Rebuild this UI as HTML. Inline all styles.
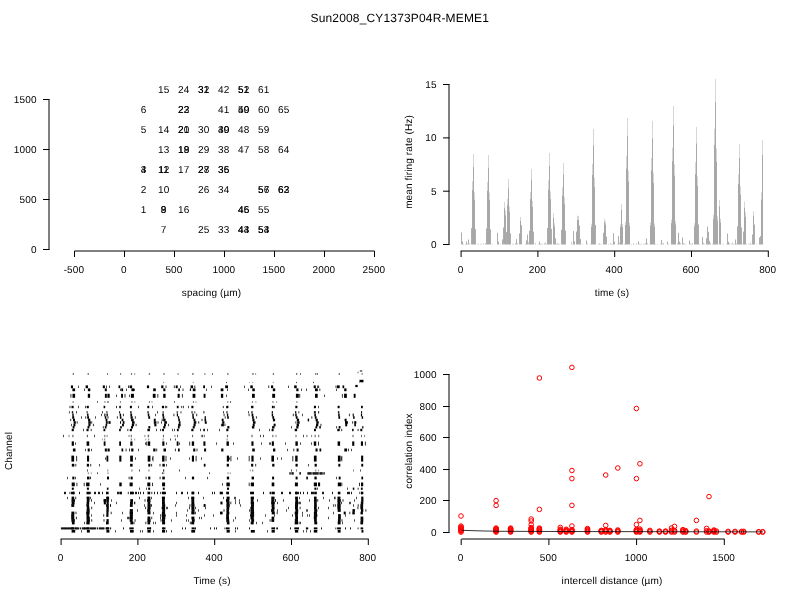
<!DOCTYPE html><html><head><meta charset="utf-8"><title>Sun2008_CY1373P04R-MEME1</title>
<style>html,body{margin:0;padding:0;background:#fff;}svg{display:block;will-change:transform;}text{font-family:"Liberation Sans",sans-serif;fill:#000;letter-spacing:0.12px;text-rendering:geometricPrecision;}</style></head><body>
<svg width="800" height="600" viewBox="0 0 800 600">
<rect width="800" height="600" fill="#fff"/>
<text x="399.8" y="22" text-anchor="middle" font-size="12" style="letter-spacing:0.16px">Sun2008_CY1373P04R-MEME1</text>
<line x1="49" y1="99.5" x2="49" y2="249.5" stroke="#000" stroke-width="1" />
<line x1="43" y1="99.5" x2="49.5" y2="99.5" stroke="#000" stroke-width="1" />
<text x="36.6" y="103.0" text-anchor="end" font-size="10" >1500</text>
<line x1="43" y1="149.5" x2="49.5" y2="149.5" stroke="#000" stroke-width="1" />
<text x="36.6" y="153.0" text-anchor="end" font-size="10" >1000</text>
<line x1="43" y1="199.5" x2="49.5" y2="199.5" stroke="#000" stroke-width="1" />
<text x="36.6" y="203.0" text-anchor="end" font-size="10" >500</text>
<line x1="43" y1="249.5" x2="49.5" y2="249.5" stroke="#000" stroke-width="1" />
<text x="36.6" y="253.0" text-anchor="end" font-size="10" >0</text>
<line x1="74.5" y1="251" x2="374.5" y2="251" stroke="#000" stroke-width="1" />
<line x1="74.5" y1="251" x2="74.5" y2="257" stroke="#000" stroke-width="1" />
<text x="73.9" y="273" text-anchor="middle" font-size="10" >-500</text>
<line x1="124.5" y1="251" x2="124.5" y2="257" stroke="#000" stroke-width="1" />
<text x="123.9" y="273" text-anchor="middle" font-size="10" >0</text>
<line x1="174.5" y1="251" x2="174.5" y2="257" stroke="#000" stroke-width="1" />
<text x="173.9" y="273" text-anchor="middle" font-size="10" >500</text>
<line x1="224.5" y1="251" x2="224.5" y2="257" stroke="#000" stroke-width="1" />
<text x="223.9" y="273" text-anchor="middle" font-size="10" >1000</text>
<line x1="274.5" y1="251" x2="274.5" y2="257" stroke="#000" stroke-width="1" />
<text x="273.9" y="273" text-anchor="middle" font-size="10" >1500</text>
<line x1="324.5" y1="251" x2="324.5" y2="257" stroke="#000" stroke-width="1" />
<text x="323.9" y="273" text-anchor="middle" font-size="10" >2000</text>
<line x1="374.5" y1="251" x2="374.5" y2="257" stroke="#000" stroke-width="1" />
<text x="373.9" y="273" text-anchor="middle" font-size="10" >2500</text>
<text x="211.5" y="296" text-anchor="middle" font-size="10" >spacing (µm)</text>
<text x="143.7" y="213.0" text-anchor="middle" font-size="10" >1</text>
<text x="143.7" y="193.0" text-anchor="middle" font-size="10" >2</text>
<text x="143.7" y="173.0" text-anchor="middle" font-size="10" >3</text>
<text x="143.7" y="173.0" text-anchor="middle" font-size="10" >4</text>
<text x="143.7" y="133.0" text-anchor="middle" font-size="10" >5</text>
<text x="143.7" y="113.0" text-anchor="middle" font-size="10" >6</text>
<text x="163.7" y="233.0" text-anchor="middle" font-size="10" >7</text>
<text x="163.7" y="213.0" text-anchor="middle" font-size="10" >8</text>
<text x="163.7" y="213.0" text-anchor="middle" font-size="10" >9</text>
<text x="163.7" y="193.0" text-anchor="middle" font-size="10" >10</text>
<text x="163.7" y="173.0" text-anchor="middle" font-size="10" >11</text>
<text x="163.7" y="173.0" text-anchor="middle" font-size="10" >12</text>
<text x="163.7" y="153.0" text-anchor="middle" font-size="10" >13</text>
<text x="163.7" y="133.0" text-anchor="middle" font-size="10" >14</text>
<text x="163.7" y="93.0" text-anchor="middle" font-size="10" >15</text>
<text x="183.7" y="213.0" text-anchor="middle" font-size="10" >16</text>
<text x="183.7" y="173.0" text-anchor="middle" font-size="10" >17</text>
<text x="183.7" y="153.0" text-anchor="middle" font-size="10" >18</text>
<text x="183.7" y="153.0" text-anchor="middle" font-size="10" >19</text>
<text x="183.7" y="133.0" text-anchor="middle" font-size="10" >20</text>
<text x="183.7" y="133.0" text-anchor="middle" font-size="10" >21</text>
<text x="183.7" y="113.0" text-anchor="middle" font-size="10" >22</text>
<text x="183.7" y="113.0" text-anchor="middle" font-size="10" >23</text>
<text x="183.7" y="93.0" text-anchor="middle" font-size="10" >24</text>
<text x="203.7" y="233.0" text-anchor="middle" font-size="10" >25</text>
<text x="203.7" y="193.0" text-anchor="middle" font-size="10" >26</text>
<text x="203.7" y="173.0" text-anchor="middle" font-size="10" >27</text>
<text x="203.7" y="173.0" text-anchor="middle" font-size="10" >28</text>
<text x="203.7" y="153.0" text-anchor="middle" font-size="10" >29</text>
<text x="203.7" y="133.0" text-anchor="middle" font-size="10" >30</text>
<text x="203.7" y="93.0" text-anchor="middle" font-size="10" >31</text>
<text x="203.7" y="93.0" text-anchor="middle" font-size="10" >32</text>
<text x="223.7" y="233.0" text-anchor="middle" font-size="10" >33</text>
<text x="223.7" y="193.0" text-anchor="middle" font-size="10" >34</text>
<text x="223.7" y="173.0" text-anchor="middle" font-size="10" >35</text>
<text x="223.7" y="173.0" text-anchor="middle" font-size="10" >36</text>
<text x="223.7" y="153.0" text-anchor="middle" font-size="10" >38</text>
<text x="223.7" y="133.0" text-anchor="middle" font-size="10" >39</text>
<text x="223.7" y="133.0" text-anchor="middle" font-size="10" >40</text>
<text x="223.7" y="113.0" text-anchor="middle" font-size="10" >41</text>
<text x="223.7" y="93.0" text-anchor="middle" font-size="10" >42</text>
<text x="243.7" y="233.0" text-anchor="middle" font-size="10" >43</text>
<text x="243.7" y="233.0" text-anchor="middle" font-size="10" >44</text>
<text x="243.7" y="213.0" text-anchor="middle" font-size="10" >45</text>
<text x="243.7" y="213.0" text-anchor="middle" font-size="10" >46</text>
<text x="243.7" y="153.0" text-anchor="middle" font-size="10" >47</text>
<text x="243.7" y="133.0" text-anchor="middle" font-size="10" >48</text>
<text x="243.7" y="113.0" text-anchor="middle" font-size="10" >49</text>
<text x="243.7" y="113.0" text-anchor="middle" font-size="10" >50</text>
<text x="243.7" y="93.0" text-anchor="middle" font-size="10" >51</text>
<text x="243.7" y="93.0" text-anchor="middle" font-size="10" >52</text>
<text x="263.7" y="233.0" text-anchor="middle" font-size="10" >53</text>
<text x="263.7" y="233.0" text-anchor="middle" font-size="10" >54</text>
<text x="263.7" y="213.0" text-anchor="middle" font-size="10" >55</text>
<text x="263.7" y="193.0" text-anchor="middle" font-size="10" >56</text>
<text x="263.7" y="193.0" text-anchor="middle" font-size="10" >57</text>
<text x="263.7" y="153.0" text-anchor="middle" font-size="10" >58</text>
<text x="263.7" y="133.0" text-anchor="middle" font-size="10" >59</text>
<text x="263.7" y="113.0" text-anchor="middle" font-size="10" >60</text>
<text x="263.7" y="93.0" text-anchor="middle" font-size="10" >61</text>
<text x="283.7" y="193.0" text-anchor="middle" font-size="10" >62</text>
<text x="283.7" y="193.0" text-anchor="middle" font-size="10" >63</text>
<text x="283.7" y="153.0" text-anchor="middle" font-size="10" >64</text>
<text x="283.7" y="113.0" text-anchor="middle" font-size="10" >65</text>
<line x1="449" y1="84.5" x2="449" y2="244.5" stroke="#000" stroke-width="1" />
<line x1="443" y1="84.5" x2="449.5" y2="84.5" stroke="#000" stroke-width="1" />
<text x="436.6" y="88.0" text-anchor="end" font-size="10" >15</text>
<line x1="443" y1="137.9" x2="449.5" y2="137.9" stroke="#000" stroke-width="1" />
<text x="436.6" y="141.4" text-anchor="end" font-size="10" >10</text>
<line x1="443" y1="191.2" x2="449.5" y2="191.2" stroke="#000" stroke-width="1" />
<text x="436.6" y="194.7" text-anchor="end" font-size="10" >5</text>
<line x1="443" y1="244.5" x2="449.5" y2="244.5" stroke="#000" stroke-width="1" />
<text x="436.6" y="248.0" text-anchor="end" font-size="10" >0</text>
<line x1="460.6" y1="251" x2="768.8" y2="251" stroke="#000" stroke-width="1" />
<line x1="461.1" y1="251" x2="461.1" y2="257" stroke="#000" stroke-width="1" />
<text x="460.5" y="273" text-anchor="middle" font-size="10" >0</text>
<line x1="537.9" y1="251" x2="537.9" y2="257" stroke="#000" stroke-width="1" />
<text x="537.3" y="273" text-anchor="middle" font-size="10" >200</text>
<line x1="614.7" y1="251" x2="614.7" y2="257" stroke="#000" stroke-width="1" />
<text x="614.1" y="273" text-anchor="middle" font-size="10" >400</text>
<line x1="691.5" y1="251" x2="691.5" y2="257" stroke="#000" stroke-width="1" />
<text x="690.9" y="273" text-anchor="middle" font-size="10" >600</text>
<line x1="768.3" y1="251" x2="768.3" y2="257" stroke="#000" stroke-width="1" />
<text x="767.6999999999999" y="273" text-anchor="middle" font-size="10" >800</text>
<text x="612" y="296" text-anchor="middle" font-size="10" >time (s)</text>
<text transform="translate(411.5,162) rotate(-90)" text-anchor="middle" font-size="10">mean firing rate (Hz)</text>
<rect x="461" y="232.5" width="1" height="12.0" fill="#adadad"/>
<rect x="462" y="241.5" width="1" height="3.0" fill="#adadad"/>
<rect x="463" y="243.8" width="1" height="0.7" fill="#cccccc"/>
<rect x="465" y="243.8" width="1" height="0.7" fill="#cccccc"/>
<rect x="466" y="241.5" width="1" height="3.0" fill="#adadad"/>
<rect x="467" y="243.8" width="1" height="0.8" fill="#cccccc"/>
<rect x="468" y="239.5" width="1" height="5.0" fill="#adadad"/>
<rect x="469" y="243.2" width="1" height="1.2" fill="#cccccc"/>
<rect x="471" y="228.2" width="1" height="16.3" fill="#adadad"/>
<rect x="472" y="181.2" width="1" height="8.9" fill="#d6d6d6"/>
<rect x="472" y="190.0" width="1" height="54.5" fill="#a8a8a8"/>
<rect x="473" y="154.0" width="1" height="12.7" fill="#d6d6d6"/>
<rect x="473" y="166.7" width="1" height="77.8" fill="#a8a8a8"/>
<rect x="474" y="192.0" width="1" height="7.3" fill="#d6d6d6"/>
<rect x="474" y="199.4" width="1" height="45.1" fill="#a8a8a8"/>
<rect x="475" y="229.1" width="1" height="15.4" fill="#adadad"/>
<rect x="477" y="243.8" width="1" height="0.7" fill="#cccccc"/>
<rect x="478" y="243.8" width="1" height="0.7" fill="#cccccc"/>
<rect x="480" y="243.8" width="1" height="0.7" fill="#cccccc"/>
<rect x="481" y="243.8" width="1" height="0.7" fill="#cccccc"/>
<rect x="483" y="243.0" width="1" height="1.5" fill="#cccccc"/>
<rect x="485" y="243.0" width="1" height="1.5" fill="#cccccc"/>
<rect x="486" y="228.4" width="1" height="16.1" fill="#adadad"/>
<rect x="487" y="181.8" width="1" height="8.8" fill="#d6d6d6"/>
<rect x="487" y="190.6" width="1" height="53.9" fill="#a8a8a8"/>
<rect x="488" y="155.0" width="1" height="12.5" fill="#d6d6d6"/>
<rect x="488" y="167.5" width="1" height="77.0" fill="#a8a8a8"/>
<rect x="489" y="192.6" width="1" height="7.3" fill="#d6d6d6"/>
<rect x="489" y="199.9" width="1" height="44.6" fill="#a8a8a8"/>
<rect x="490" y="229.3" width="1" height="15.2" fill="#adadad"/>
<rect x="492" y="243.8" width="1" height="0.7" fill="#cccccc"/>
<rect x="497" y="232.8" width="1" height="11.7" fill="#adadad"/>
<rect x="498" y="241.6" width="1" height="2.9" fill="#adadad"/>
<rect x="500" y="243.8" width="1" height="0.7" fill="#cccccc"/>
<rect x="502" y="239.5" width="1" height="5.0" fill="#adadad"/>
<rect x="503" y="227.5" width="1" height="17.0" fill="#adadad"/>
<rect x="504" y="202.0" width="1" height="6.0" fill="#d6d6d6"/>
<rect x="504" y="207.9" width="1" height="36.5" fill="#a8a8a8"/>
<rect x="505" y="210.5" width="1" height="4.8" fill="#d6d6d6"/>
<rect x="505" y="215.3" width="1" height="29.2" fill="#a8a8a8"/>
<rect x="506" y="231.8" width="1" height="12.8" fill="#adadad"/>
<rect x="507" y="198.7" width="1" height="6.4" fill="#d6d6d6"/>
<rect x="507" y="205.1" width="1" height="39.4" fill="#a8a8a8"/>
<rect x="508" y="179.0" width="1" height="9.2" fill="#d6d6d6"/>
<rect x="508" y="188.2" width="1" height="56.3" fill="#a8a8a8"/>
<rect x="509" y="206.5" width="1" height="5.3" fill="#d6d6d6"/>
<rect x="509" y="211.8" width="1" height="32.7" fill="#a8a8a8"/>
<rect x="510" y="233.4" width="1" height="11.1" fill="#adadad"/>
<rect x="512" y="243.8" width="1" height="0.7" fill="#cccccc"/>
<rect x="513" y="243.8" width="1" height="0.7" fill="#cccccc"/>
<rect x="515" y="243.0" width="1" height="1.5" fill="#cccccc"/>
<rect x="516" y="239.1" width="1" height="5.4" fill="#adadad"/>
<rect x="517" y="243.2" width="1" height="1.4" fill="#cccccc"/>
<rect x="519" y="233.5" width="1" height="11.0" fill="#adadad"/>
<rect x="520" y="217.0" width="1" height="3.9" fill="#d6d6d6"/>
<rect x="520" y="220.8" width="1" height="23.6" fill="#a8a8a8"/>
<rect x="521" y="225.2" width="1" height="19.2" fill="#adadad"/>
<rect x="525" y="243.8" width="1" height="0.7" fill="#cccccc"/>
<rect x="526" y="240.5" width="1" height="4.0" fill="#adadad"/>
<rect x="527" y="234.5" width="1" height="10.0" fill="#adadad"/>
<rect x="528" y="242.0" width="1" height="2.5" fill="#cccccc"/>
<rect x="529" y="230.9" width="1" height="13.6" fill="#adadad"/>
<rect x="530" y="191.7" width="1" height="7.4" fill="#d6d6d6"/>
<rect x="530" y="199.0" width="1" height="45.5" fill="#a8a8a8"/>
<rect x="531" y="169.0" width="1" height="10.6" fill="#d6d6d6"/>
<rect x="531" y="179.6" width="1" height="64.9" fill="#a8a8a8"/>
<rect x="532" y="200.7" width="1" height="6.1" fill="#d6d6d6"/>
<rect x="532" y="206.8" width="1" height="37.7" fill="#a8a8a8"/>
<rect x="533" y="231.7" width="1" height="12.8" fill="#adadad"/>
<rect x="535" y="243.0" width="1" height="1.5" fill="#cccccc"/>
<rect x="538" y="243.8" width="1" height="0.7" fill="#cccccc"/>
<rect x="539" y="241.5" width="1" height="3.0" fill="#adadad"/>
<rect x="540" y="243.8" width="1" height="0.8" fill="#cccccc"/>
<rect x="541" y="243.8" width="1" height="0.7" fill="#cccccc"/>
<rect x="542" y="243.8" width="1" height="0.7" fill="#cccccc"/>
<rect x="544" y="243.0" width="1" height="1.5" fill="#cccccc"/>
<rect x="545" y="242.5" width="1" height="2.0" fill="#cccccc"/>
<rect x="546" y="244.0" width="1" height="0.5" fill="#cccccc"/>
<rect x="547" y="228.0" width="1" height="16.5" fill="#adadad"/>
<rect x="548" y="180.4" width="1" height="9.0" fill="#d6d6d6"/>
<rect x="548" y="189.4" width="1" height="55.1" fill="#a8a8a8"/>
<rect x="549" y="153.0" width="1" height="12.8" fill="#d6d6d6"/>
<rect x="549" y="165.8" width="1" height="78.7" fill="#a8a8a8"/>
<rect x="550" y="191.4" width="1" height="7.4" fill="#d6d6d6"/>
<rect x="550" y="198.9" width="1" height="45.6" fill="#a8a8a8"/>
<rect x="551" y="228.9" width="1" height="15.6" fill="#adadad"/>
<rect x="553" y="213.3" width="1" height="4.4" fill="#d6d6d6"/>
<rect x="553" y="217.7" width="1" height="26.8" fill="#a8a8a8"/>
<rect x="554" y="223.3" width="1" height="3.0" fill="#d6d6d6"/>
<rect x="554" y="226.3" width="1" height="18.2" fill="#a8a8a8"/>
<rect x="555" y="238.3" width="1" height="6.2" fill="#adadad"/>
<rect x="556" y="243.8" width="1" height="0.7" fill="#cccccc"/>
<rect x="557" y="243.0" width="1" height="1.5" fill="#cccccc"/>
<rect x="558" y="243.8" width="1" height="0.7" fill="#cccccc"/>
<rect x="559" y="243.8" width="1" height="0.7" fill="#cccccc"/>
<rect x="561" y="229.8" width="1" height="14.7" fill="#adadad"/>
<rect x="562" y="187.4" width="1" height="8.0" fill="#d6d6d6"/>
<rect x="562" y="195.4" width="1" height="49.1" fill="#a8a8a8"/>
<rect x="563" y="163.0" width="1" height="11.4" fill="#d6d6d6"/>
<rect x="563" y="174.4" width="1" height="70.1" fill="#a8a8a8"/>
<rect x="564" y="197.2" width="1" height="6.6" fill="#d6d6d6"/>
<rect x="564" y="203.8" width="1" height="40.7" fill="#a8a8a8"/>
<rect x="565" y="230.6" width="1" height="13.9" fill="#adadad"/>
<rect x="571" y="242.0" width="1" height="2.5" fill="#cccccc"/>
<rect x="572" y="243.9" width="1" height="0.6" fill="#cccccc"/>
<rect x="573" y="231.1" width="1" height="13.4" fill="#adadad"/>
<rect x="574" y="241.2" width="1" height="3.4" fill="#adadad"/>
<rect x="576" y="231.6" width="1" height="12.9" fill="#adadad"/>
<rect x="577" y="215.8" width="1" height="4.0" fill="#d6d6d6"/>
<rect x="577" y="219.8" width="1" height="24.7" fill="#a8a8a8"/>
<rect x="578" y="215.8" width="1" height="4.0" fill="#d6d6d6"/>
<rect x="578" y="219.8" width="1" height="24.7" fill="#a8a8a8"/>
<rect x="579" y="225.6" width="1" height="18.9" fill="#adadad"/>
<rect x="580" y="239.0" width="1" height="5.5" fill="#adadad"/>
<rect x="582" y="243.8" width="1" height="0.7" fill="#cccccc"/>
<rect x="586" y="240.5" width="1" height="4.0" fill="#adadad"/>
<rect x="587" y="243.5" width="1" height="1.0" fill="#cccccc"/>
<rect x="590" y="243.8" width="1" height="0.7" fill="#cccccc"/>
<rect x="591" y="223.7" width="1" height="2.9" fill="#d6d6d6"/>
<rect x="591" y="226.6" width="1" height="17.9" fill="#a8a8a8"/>
<rect x="592" y="163.7" width="1" height="11.3" fill="#d6d6d6"/>
<rect x="592" y="175.0" width="1" height="69.5" fill="#a8a8a8"/>
<rect x="593" y="129.0" width="1" height="16.2" fill="#d6d6d6"/>
<rect x="593" y="145.2" width="1" height="99.3" fill="#a8a8a8"/>
<rect x="594" y="177.5" width="1" height="9.4" fill="#d6d6d6"/>
<rect x="594" y="186.9" width="1" height="57.6" fill="#a8a8a8"/>
<rect x="595" y="224.9" width="1" height="19.6" fill="#adadad"/>
<rect x="598" y="243.8" width="1" height="0.7" fill="#cccccc"/>
<rect x="599" y="243.0" width="1" height="1.5" fill="#cccccc"/>
<rect x="600" y="244.1" width="1" height="0.4" fill="#cccccc"/>
<rect x="601" y="243.8" width="1" height="0.7" fill="#cccccc"/>
<rect x="603" y="232.8" width="1" height="11.7" fill="#adadad"/>
<rect x="604" y="218.6" width="1" height="3.6" fill="#d6d6d6"/>
<rect x="604" y="222.2" width="1" height="22.3" fill="#a8a8a8"/>
<rect x="605" y="221.2" width="1" height="3.3" fill="#d6d6d6"/>
<rect x="605" y="224.5" width="1" height="20.0" fill="#a8a8a8"/>
<rect x="606" y="236.7" width="1" height="7.8" fill="#adadad"/>
<rect x="608" y="243.8" width="1" height="0.7" fill="#cccccc"/>
<rect x="610" y="243.0" width="1" height="1.5" fill="#cccccc"/>
<rect x="611" y="243.8" width="1" height="0.7" fill="#cccccc"/>
<rect x="612" y="243.8" width="1" height="0.7" fill="#cccccc"/>
<rect x="613" y="233.2" width="1" height="11.3" fill="#adadad"/>
<rect x="614" y="241.7" width="1" height="2.8" fill="#adadad"/>
<rect x="617" y="243.8" width="1" height="0.7" fill="#cccccc"/>
<rect x="618" y="236.2" width="1" height="8.3" fill="#adadad"/>
<rect x="619" y="242.4" width="1" height="2.1" fill="#cccccc"/>
<rect x="620" y="224.2" width="1" height="2.8" fill="#d6d6d6"/>
<rect x="620" y="227.1" width="1" height="17.4" fill="#a8a8a8"/>
<rect x="621" y="204.0" width="1" height="5.7" fill="#d6d6d6"/>
<rect x="621" y="209.7" width="1" height="34.8" fill="#a8a8a8"/>
<rect x="622" y="224.2" width="1" height="2.8" fill="#d6d6d6"/>
<rect x="622" y="227.1" width="1" height="17.4" fill="#a8a8a8"/>
<rect x="624" y="243.8" width="1" height="0.7" fill="#cccccc"/>
<rect x="625" y="221.7" width="1" height="3.2" fill="#d6d6d6"/>
<rect x="625" y="224.9" width="1" height="19.6" fill="#a8a8a8"/>
<rect x="626" y="155.9" width="1" height="12.4" fill="#d6d6d6"/>
<rect x="626" y="168.3" width="1" height="76.2" fill="#a8a8a8"/>
<rect x="627" y="118.0" width="1" height="17.7" fill="#d6d6d6"/>
<rect x="627" y="135.7" width="1" height="108.8" fill="#a8a8a8"/>
<rect x="628" y="171.1" width="1" height="10.3" fill="#d6d6d6"/>
<rect x="628" y="181.4" width="1" height="63.1" fill="#a8a8a8"/>
<rect x="629" y="223.0" width="1" height="3.0" fill="#d6d6d6"/>
<rect x="629" y="226.0" width="1" height="18.5" fill="#a8a8a8"/>
<rect x="631" y="243.8" width="1" height="0.7" fill="#cccccc"/>
<rect x="633" y="243.0" width="1" height="1.5" fill="#cccccc"/>
<rect x="634" y="244.1" width="1" height="0.4" fill="#cccccc"/>
<rect x="636" y="243.0" width="1" height="1.5" fill="#cccccc"/>
<rect x="638" y="241.5" width="1" height="3.0" fill="#adadad"/>
<rect x="639" y="243.8" width="1" height="0.8" fill="#cccccc"/>
<rect x="640" y="243.8" width="1" height="0.7" fill="#cccccc"/>
<rect x="641" y="243.8" width="1" height="0.7" fill="#cccccc"/>
<rect x="643" y="243.8" width="1" height="0.7" fill="#cccccc"/>
<rect x="644" y="243.8" width="1" height="0.7" fill="#cccccc"/>
<rect x="645" y="243.0" width="1" height="1.5" fill="#cccccc"/>
<rect x="646" y="238.5" width="1" height="6.0" fill="#adadad"/>
<rect x="647" y="243.0" width="1" height="1.5" fill="#cccccc"/>
<rect x="649" y="243.8" width="1" height="0.7" fill="#cccccc"/>
<rect x="650" y="222.3" width="1" height="3.1" fill="#d6d6d6"/>
<rect x="650" y="225.4" width="1" height="19.1" fill="#a8a8a8"/>
<rect x="651" y="158.1" width="1" height="12.1" fill="#d6d6d6"/>
<rect x="651" y="170.2" width="1" height="74.3" fill="#a8a8a8"/>
<rect x="652" y="121.0" width="1" height="17.3" fill="#d6d6d6"/>
<rect x="652" y="138.3" width="1" height="106.2" fill="#a8a8a8"/>
<rect x="653" y="172.9" width="1" height="10.0" fill="#d6d6d6"/>
<rect x="653" y="182.9" width="1" height="61.6" fill="#a8a8a8"/>
<rect x="654" y="223.5" width="1" height="2.9" fill="#d6d6d6"/>
<rect x="654" y="226.4" width="1" height="18.1" fill="#a8a8a8"/>
<rect x="655" y="243.8" width="1" height="0.7" fill="#cccccc"/>
<rect x="657" y="243.8" width="1" height="0.7" fill="#cccccc"/>
<rect x="660" y="243.8" width="1" height="0.7" fill="#cccccc"/>
<rect x="661" y="240.0" width="1" height="4.5" fill="#adadad"/>
<rect x="662" y="243.4" width="1" height="1.1" fill="#cccccc"/>
<rect x="663" y="243.0" width="1" height="1.5" fill="#cccccc"/>
<rect x="667" y="241.5" width="1" height="3.0" fill="#adadad"/>
<rect x="668" y="243.8" width="1" height="0.8" fill="#cccccc"/>
<rect x="671" y="219.6" width="1" height="3.5" fill="#d6d6d6"/>
<rect x="671" y="223.1" width="1" height="21.4" fill="#a8a8a8"/>
<rect x="672" y="147.6" width="1" height="13.6" fill="#d6d6d6"/>
<rect x="672" y="161.1" width="1" height="83.4" fill="#a8a8a8"/>
<rect x="673" y="106.0" width="1" height="19.4" fill="#d6d6d6"/>
<rect x="673" y="125.4" width="1" height="119.1" fill="#a8a8a8"/>
<rect x="674" y="164.2" width="1" height="11.2" fill="#d6d6d6"/>
<rect x="674" y="175.4" width="1" height="69.1" fill="#a8a8a8"/>
<rect x="675" y="221.0" width="1" height="3.3" fill="#d6d6d6"/>
<rect x="675" y="224.3" width="1" height="20.2" fill="#a8a8a8"/>
<rect x="677" y="243.0" width="1" height="1.5" fill="#cccccc"/>
<rect x="678" y="232.8" width="1" height="11.7" fill="#adadad"/>
<rect x="679" y="241.6" width="1" height="2.9" fill="#adadad"/>
<rect x="680" y="243.0" width="1" height="1.5" fill="#cccccc"/>
<rect x="682" y="237.5" width="1" height="7.0" fill="#adadad"/>
<rect x="683" y="242.8" width="1" height="1.8" fill="#cccccc"/>
<rect x="684" y="243.8" width="1" height="0.7" fill="#cccccc"/>
<rect x="685" y="243.8" width="1" height="0.7" fill="#cccccc"/>
<rect x="689" y="240.5" width="1" height="4.0" fill="#adadad"/>
<rect x="690" y="243.5" width="1" height="1.0" fill="#cccccc"/>
<rect x="691" y="243.8" width="1" height="0.7" fill="#cccccc"/>
<rect x="692" y="243.0" width="1" height="1.5" fill="#cccccc"/>
<rect x="694" y="223.3" width="1" height="3.0" fill="#d6d6d6"/>
<rect x="694" y="226.3" width="1" height="18.2" fill="#a8a8a8"/>
<rect x="695" y="162.2" width="1" height="11.5" fill="#d6d6d6"/>
<rect x="695" y="173.8" width="1" height="70.7" fill="#a8a8a8"/>
<rect x="696" y="127.0" width="1" height="16.5" fill="#d6d6d6"/>
<rect x="696" y="143.4" width="1" height="101.0" fill="#a8a8a8"/>
<rect x="697" y="176.4" width="1" height="9.5" fill="#d6d6d6"/>
<rect x="697" y="185.9" width="1" height="58.6" fill="#a8a8a8"/>
<rect x="698" y="224.5" width="1" height="20.0" fill="#adadad"/>
<rect x="699" y="243.8" width="1" height="0.7" fill="#cccccc"/>
<rect x="702" y="237.0" width="1" height="7.5" fill="#adadad"/>
<rect x="703" y="242.6" width="1" height="1.9" fill="#cccccc"/>
<rect x="704" y="243.8" width="1" height="0.7" fill="#cccccc"/>
<rect x="706" y="238.2" width="1" height="6.3" fill="#adadad"/>
<rect x="707" y="226.5" width="1" height="18.0" fill="#adadad"/>
<rect x="708" y="231.9" width="1" height="12.6" fill="#adadad"/>
<rect x="709" y="240.9" width="1" height="3.6" fill="#adadad"/>
<rect x="710" y="243.0" width="1" height="1.5" fill="#cccccc"/>
<rect x="712" y="243.8" width="1" height="0.7" fill="#cccccc"/>
<rect x="713" y="214.7" width="1" height="4.2" fill="#d6d6d6"/>
<rect x="713" y="218.9" width="1" height="25.6" fill="#a8a8a8"/>
<rect x="714" y="128.7" width="1" height="16.2" fill="#d6d6d6"/>
<rect x="714" y="144.9" width="1" height="99.6" fill="#a8a8a8"/>
<rect x="715" y="79.0" width="1" height="23.2" fill="#d6d6d6"/>
<rect x="715" y="102.2" width="1" height="142.3" fill="#a8a8a8"/>
<rect x="716" y="148.5" width="1" height="13.4" fill="#d6d6d6"/>
<rect x="716" y="161.9" width="1" height="82.6" fill="#a8a8a8"/>
<rect x="717" y="216.4" width="1" height="3.9" fill="#d6d6d6"/>
<rect x="717" y="220.3" width="1" height="24.2" fill="#a8a8a8"/>
<rect x="719" y="200.0" width="1" height="6.2" fill="#d6d6d6"/>
<rect x="719" y="206.2" width="1" height="38.3" fill="#a8a8a8"/>
<rect x="720" y="218.7" width="1" height="3.6" fill="#d6d6d6"/>
<rect x="720" y="222.3" width="1" height="22.2" fill="#a8a8a8"/>
<rect x="722" y="243.8" width="1" height="0.7" fill="#cccccc"/>
<rect x="723" y="243.8" width="1" height="0.7" fill="#cccccc"/>
<rect x="726" y="243.8" width="1" height="0.7" fill="#cccccc"/>
<rect x="727" y="233.5" width="1" height="11.0" fill="#adadad"/>
<rect x="728" y="241.8" width="1" height="2.8" fill="#adadad"/>
<rect x="729" y="243.0" width="1" height="1.5" fill="#cccccc"/>
<rect x="731" y="243.8" width="1" height="0.7" fill="#cccccc"/>
<rect x="732" y="242.5" width="1" height="2.0" fill="#cccccc"/>
<rect x="733" y="244.0" width="1" height="0.5" fill="#cccccc"/>
<rect x="734" y="243.8" width="1" height="0.7" fill="#cccccc"/>
<rect x="735" y="239.5" width="1" height="5.0" fill="#adadad"/>
<rect x="736" y="243.2" width="1" height="1.2" fill="#cccccc"/>
<rect x="737" y="226.4" width="1" height="18.1" fill="#adadad"/>
<rect x="738" y="174.2" width="1" height="9.8" fill="#d6d6d6"/>
<rect x="738" y="184.0" width="1" height="60.5" fill="#a8a8a8"/>
<rect x="739" y="144.0" width="1" height="14.1" fill="#d6d6d6"/>
<rect x="739" y="158.1" width="1" height="86.4" fill="#a8a8a8"/>
<rect x="740" y="186.2" width="1" height="8.2" fill="#d6d6d6"/>
<rect x="740" y="194.4" width="1" height="50.1" fill="#a8a8a8"/>
<rect x="741" y="227.4" width="1" height="17.1" fill="#adadad"/>
<rect x="742" y="243.8" width="1" height="0.7" fill="#cccccc"/>
<rect x="743" y="231.6" width="1" height="12.9" fill="#adadad"/>
<rect x="744" y="201.6" width="1" height="6.0" fill="#d6d6d6"/>
<rect x="744" y="207.6" width="1" height="36.9" fill="#a8a8a8"/>
<rect x="745" y="212.3" width="1" height="4.5" fill="#d6d6d6"/>
<rect x="745" y="216.8" width="1" height="27.7" fill="#a8a8a8"/>
<rect x="746" y="243.8" width="1" height="0.7" fill="#cccccc"/>
<rect x="748" y="243.8" width="1" height="0.7" fill="#cccccc"/>
<rect x="749" y="243.8" width="1" height="0.7" fill="#cccccc"/>
<rect x="750" y="242.5" width="1" height="2.0" fill="#cccccc"/>
<rect x="751" y="244.0" width="1" height="0.5" fill="#cccccc"/>
<rect x="752" y="234.5" width="1" height="10.0" fill="#adadad"/>
<rect x="753" y="211.3" width="1" height="4.6" fill="#d6d6d6"/>
<rect x="753" y="215.9" width="1" height="28.6" fill="#a8a8a8"/>
<rect x="754" y="224.6" width="1" height="19.9" fill="#adadad"/>
<rect x="756" y="243.8" width="1" height="0.7" fill="#cccccc"/>
<rect x="759" y="237.5" width="1" height="7.0" fill="#adadad"/>
<rect x="760" y="236.2" width="1" height="8.3" fill="#adadad"/>
<rect x="761" y="192.4" width="1" height="7.3" fill="#d6d6d6"/>
<rect x="761" y="199.7" width="1" height="44.8" fill="#a8a8a8"/>
<rect x="762" y="140.4" width="1" height="14.6" fill="#d6d6d6"/>
<rect x="762" y="155.0" width="1" height="89.5" fill="#a8a8a8"/>
<line x1="60.6" y1="539" x2="368.8" y2="539" stroke="#000" stroke-width="1" />
<line x1="61.1" y1="539" x2="61.1" y2="545" stroke="#000" stroke-width="1" />
<text x="60.5" y="561" text-anchor="middle" font-size="10" >0</text>
<line x1="137.9" y1="539" x2="137.9" y2="545" stroke="#000" stroke-width="1" />
<text x="137.3" y="561" text-anchor="middle" font-size="10" >200</text>
<line x1="214.7" y1="539" x2="214.7" y2="545" stroke="#000" stroke-width="1" />
<text x="214.1" y="561" text-anchor="middle" font-size="10" >400</text>
<line x1="291.5" y1="539" x2="291.5" y2="545" stroke="#000" stroke-width="1" />
<text x="290.9" y="561" text-anchor="middle" font-size="10" >600</text>
<line x1="368.3" y1="539" x2="368.3" y2="545" stroke="#000" stroke-width="1" />
<text x="367.7" y="561" text-anchor="middle" font-size="10" >800</text>
<text x="212" y="584" text-anchor="middle" font-size="10" >Time (s)</text>
<text transform="translate(11.5,451) rotate(-90)" text-anchor="middle" font-size="10">Channel</text>
<rect x="72.7" y="373.2" width="1.3" height="1.5" fill-opacity="0.70"/>
<rect x="70.9" y="385.4" width="2.1" height="2.8"/>
<rect x="72.4" y="388.4" width="2.7" height="2.8"/>
<rect x="72.5" y="393.8" width="2.6" height="4.0"/>
<rect x="70.4" y="394.0" width="1.0" height="3.6" fill-opacity="0.80"/>
<rect x="72.6" y="401.2" width="1.1" height="1.6" fill-opacity="0.60"/>
<rect x="71.5" y="405.8" width="2.1" height="2.4"/>
<rect x="69.5" y="405.9" width="1.0" height="2.2" fill-opacity="0.80"/>
<rect x="71.8" y="411.1" width="1.4" height="2.4" fill-opacity="0.90"/>
<rect x="68.9" y="411.2" width="1.0" height="2.2" fill-opacity="0.72"/>
<rect x="72.3" y="413.6" width="1.4" height="2.8"/>
<rect x="72.2" y="416.2" width="2.0" height="2.6"/>
<rect x="73.0" y="418.7" width="2.0" height="2.6"/>
<rect x="70.2" y="418.8" width="1.0" height="2.3" fill-opacity="0.80"/>
<rect x="73.7" y="421.2" width="2.1" height="2.6"/>
<rect x="76.7" y="421.3" width="1.0" height="2.3" fill-opacity="0.80"/>
<rect x="73.4" y="423.7" width="2.0" height="2.6"/>
<rect x="72.6" y="426.1" width="1.9" height="2.4"/>
<rect x="71.7" y="428.8" width="2.1" height="2.4"/>
<rect x="72.3" y="434.8" width="1.2" height="2.4" fill-opacity="0.60"/>
<rect x="68.5" y="434.9" width="1.0" height="2.2" fill-opacity="0.48"/>
<rect x="71.7" y="441.4" width="2.2" height="4.4"/>
<rect x="72.9" y="448.5" width="2.6" height="3.0"/>
<rect x="71.4" y="455.6" width="2.7" height="6.0"/>
<rect x="76.1" y="455.9" width="1.0" height="5.4" fill-opacity="0.80"/>
<rect x="71.8" y="463.8" width="2.5" height="2.8"/>
<rect x="75.3" y="463.9" width="1.0" height="2.5" fill-opacity="0.80"/>
<rect x="72.3" y="476.6" width="2.1" height="2.8"/>
<rect x="71.7" y="482.5" width="3.1" height="3.8"/>
<rect x="76.4" y="482.7" width="1.0" height="3.4" fill-opacity="0.80"/>
<rect x="71.8" y="487.6" width="2.0" height="2.2"/>
<rect x="71.7" y="491.7" width="3.0" height="2.6"/>
<rect x="69.4" y="491.8" width="1.0" height="2.3" fill-opacity="0.80"/>
<rect x="71.6" y="496.6" width="2.6" height="2.8"/>
<rect x="75.2" y="496.7" width="1.0" height="2.5" fill-opacity="0.80"/>
<rect x="71.5" y="499.1" width="3.4" height="2.8"/>
<rect x="71.6" y="501.6" width="3.0" height="2.8"/>
<rect x="71.3" y="504.1" width="2.9" height="2.8"/>
<rect x="71.4" y="511.6" width="3.0" height="2.8"/>
<rect x="75.5" y="511.7" width="1.0" height="2.5" fill-opacity="0.80"/>
<rect x="71.2" y="514.1" width="3.0" height="2.8"/>
<rect x="71.2" y="516.6" width="3.1" height="2.8"/>
<rect x="75.9" y="516.7" width="1.0" height="2.5" fill-opacity="0.80"/>
<rect x="71.4" y="519.1" width="3.4" height="2.8"/>
<rect x="71.9" y="521.6" width="2.7" height="2.8"/>
<rect x="71.2" y="527.4" width="3.4" height="2.0"/>
<rect x="75.2" y="527.5" width="1.0" height="1.8" fill-opacity="0.80"/>
<rect x="71.6" y="530.0" width="3.6" height="2.6"/>
<rect x="87.6" y="373.2" width="1.3" height="1.5" fill-opacity="0.70"/>
<rect x="85.6" y="385.4" width="2.4" height="2.8"/>
<rect x="87.9" y="388.4" width="2.4" height="2.8"/>
<rect x="87.8" y="393.8" width="2.3" height="4.0"/>
<rect x="86.7" y="405.8" width="2.1" height="2.4"/>
<rect x="86.6" y="411.1" width="1.0" height="2.4" fill-opacity="0.90"/>
<rect x="87.1" y="413.6" width="1.4" height="2.8"/>
<rect x="87.2" y="416.2" width="1.8" height="2.6"/>
<rect x="85.2" y="416.3" width="1.0" height="2.3" fill-opacity="0.80"/>
<rect x="88.1" y="418.7" width="2.2" height="2.6"/>
<rect x="88.3" y="421.2" width="2.5" height="2.6"/>
<rect x="91.2" y="421.3" width="1.0" height="2.3" fill-opacity="0.80"/>
<rect x="88.4" y="423.7" width="2.1" height="2.6"/>
<rect x="92.9" y="423.8" width="1.0" height="2.3" fill-opacity="0.80"/>
<rect x="87.5" y="426.1" width="1.9" height="2.4"/>
<rect x="86.5" y="428.8" width="2.1" height="2.4"/>
<rect x="90.7" y="428.9" width="1.0" height="2.2" fill-opacity="0.80"/>
<rect x="86.8" y="434.8" width="1.2" height="2.4" fill-opacity="0.60"/>
<rect x="86.6" y="441.4" width="2.6" height="4.4"/>
<rect x="87.7" y="448.5" width="2.0" height="3.0"/>
<rect x="87.0" y="455.6" width="2.1" height="6.0"/>
<rect x="86.8" y="463.8" width="2.2" height="2.8"/>
<rect x="90.2" y="463.9" width="1.0" height="2.5" fill-opacity="0.80"/>
<rect x="87.8" y="472.3" width="1.0" height="1.8" fill-opacity="0.50"/>
<rect x="90.8" y="472.4" width="1.0" height="1.6" fill-opacity="0.40"/>
<rect x="87.0" y="476.6" width="2.5" height="2.8"/>
<rect x="90.0" y="476.7" width="1.0" height="2.5" fill-opacity="0.80"/>
<rect x="86.1" y="482.5" width="3.4" height="3.8"/>
<rect x="83.7" y="482.7" width="1.0" height="3.4" fill-opacity="0.80"/>
<rect x="86.9" y="487.6" width="2.0" height="2.2"/>
<rect x="86.5" y="491.7" width="2.8" height="2.6"/>
<rect x="90.1" y="491.8" width="1.0" height="2.3" fill-opacity="0.80"/>
<rect x="86.6" y="496.6" width="3.0" height="2.8"/>
<rect x="86.8" y="499.1" width="2.7" height="2.8"/>
<rect x="91.0" y="499.2" width="1.0" height="2.5" fill-opacity="0.80"/>
<rect x="86.6" y="501.6" width="2.6" height="2.8"/>
<rect x="86.4" y="504.1" width="2.7" height="2.8"/>
<rect x="86.8" y="506.6" width="2.6" height="2.8"/>
<rect x="91.2" y="506.7" width="1.0" height="2.5" fill-opacity="0.80"/>
<rect x="86.6" y="509.1" width="3.1" height="2.8"/>
<rect x="86.2" y="511.6" width="3.4" height="2.8"/>
<rect x="86.5" y="514.1" width="2.7" height="2.8"/>
<rect x="86.5" y="516.6" width="3.3" height="2.8"/>
<rect x="86.6" y="519.1" width="3.3" height="2.8"/>
<rect x="91.2" y="519.2" width="1.0" height="2.5" fill-opacity="0.80"/>
<rect x="86.3" y="521.6" width="3.4" height="2.8"/>
<rect x="86.6" y="527.4" width="3.1" height="2.0"/>
<rect x="84.0" y="527.5" width="1.0" height="1.8" fill-opacity="0.80"/>
<rect x="86.9" y="530.0" width="2.9" height="2.6"/>
<rect x="102.8" y="385.4" width="2.1" height="2.8"/>
<rect x="104.8" y="388.4" width="2.0" height="2.8"/>
<rect x="104.9" y="393.8" width="1.9" height="4.0"/>
<rect x="104.4" y="401.2" width="1.0" height="1.6" fill-opacity="0.60"/>
<rect x="108.0" y="401.3" width="1.0" height="1.4" fill-opacity="0.48"/>
<rect x="103.6" y="405.8" width="1.6" height="2.4"/>
<rect x="104.3" y="413.6" width="1.1" height="2.8"/>
<rect x="104.8" y="416.2" width="1.5" height="2.6"/>
<rect x="107.5" y="416.3" width="1.0" height="2.3" fill-opacity="0.80"/>
<rect x="105.6" y="418.7" width="1.8" height="2.6"/>
<rect x="105.9" y="421.2" width="1.8" height="2.6"/>
<rect x="109.5" y="421.3" width="1.0" height="2.3" fill-opacity="0.80"/>
<rect x="105.6" y="423.7" width="1.6" height="2.6"/>
<rect x="104.8" y="426.1" width="1.7" height="2.4"/>
<rect x="102.8" y="426.2" width="1.0" height="2.2" fill-opacity="0.80"/>
<rect x="103.5" y="428.8" width="1.8" height="2.4"/>
<rect x="104.3" y="434.8" width="1.0" height="2.4" fill-opacity="0.60"/>
<rect x="106.6" y="434.9" width="1.0" height="2.2" fill-opacity="0.48"/>
<rect x="104.2" y="438.5" width="1.0" height="2.0" fill-opacity="0.50"/>
<rect x="101.9" y="438.6" width="1.0" height="1.8" fill-opacity="0.40"/>
<rect x="103.7" y="441.4" width="1.8" height="4.4"/>
<rect x="104.8" y="448.5" width="2.1" height="3.0"/>
<rect x="103.5" y="499.1" width="2.8" height="2.8"/>
<rect x="103.8" y="501.6" width="2.1" height="2.8"/>
<rect x="107.0" y="373.2" width="1.0" height="1.5" fill-opacity="0.70"/>
<rect x="107.4" y="393.8" width="2.3" height="4.0"/>
<rect x="107.2" y="401.2" width="1.0" height="1.6" fill-opacity="0.60"/>
<rect x="106.4" y="411.1" width="1.0" height="2.4" fill-opacity="0.90"/>
<rect x="106.5" y="413.6" width="1.3" height="2.8"/>
<rect x="108.4" y="421.2" width="2.0" height="2.6"/>
<rect x="107.5" y="448.5" width="2.2" height="3.0"/>
<rect x="106.5" y="455.6" width="1.8" height="6.0"/>
<rect x="107.3" y="469.5" width="1.0" height="2.0" fill-opacity="0.50"/>
<rect x="107.5" y="472.3" width="1.0" height="1.8" fill-opacity="0.50"/>
<rect x="107.0" y="476.6" width="2.0" height="2.8"/>
<rect x="106.9" y="487.6" width="1.6" height="2.2"/>
<rect x="106.0" y="491.7" width="2.6" height="2.6"/>
<rect x="106.6" y="496.6" width="2.5" height="2.8"/>
<rect x="106.4" y="499.1" width="2.5" height="2.8"/>
<rect x="104.8" y="499.2" width="1.0" height="2.5" fill-opacity="0.80"/>
<rect x="106.6" y="501.6" width="2.1" height="2.8"/>
<rect x="106.1" y="504.1" width="2.7" height="2.8"/>
<rect x="110.0" y="504.2" width="1.0" height="2.5" fill-opacity="0.80"/>
<rect x="106.5" y="506.6" width="2.3" height="2.8"/>
<rect x="106.4" y="509.1" width="2.3" height="2.8"/>
<rect x="106.4" y="511.6" width="2.1" height="2.8"/>
<rect x="110.7" y="511.7" width="1.0" height="2.5" fill-opacity="0.80"/>
<rect x="106.3" y="514.1" width="2.1" height="2.8"/>
<rect x="103.2" y="514.2" width="1.0" height="2.5" fill-opacity="0.80"/>
<rect x="106.5" y="519.1" width="2.2" height="2.8"/>
<rect x="103.5" y="519.2" width="1.0" height="2.5" fill-opacity="0.80"/>
<rect x="106.0" y="521.6" width="2.7" height="2.8"/>
<rect x="105.7" y="527.4" width="3.1" height="2.0"/>
<rect x="103.6" y="527.5" width="1.0" height="1.8" fill-opacity="0.80"/>
<rect x="106.4" y="530.0" width="3.0" height="2.6"/>
<rect x="120.1" y="373.2" width="1.0" height="1.5" fill-opacity="0.70"/>
<rect x="118.5" y="385.4" width="1.7" height="2.8"/>
<rect x="121.3" y="388.4" width="1.8" height="2.8"/>
<rect x="121.1" y="393.8" width="1.8" height="4.0"/>
<rect x="124.5" y="394.0" width="1.0" height="3.6" fill-opacity="0.80"/>
<rect x="119.9" y="401.2" width="1.0" height="1.6" fill-opacity="0.60"/>
<rect x="119.3" y="405.8" width="1.5" height="2.4"/>
<rect x="116.0" y="405.9" width="1.0" height="2.2" fill-opacity="0.80"/>
<rect x="119.1" y="411.1" width="1.0" height="2.4" fill-opacity="0.90"/>
<rect x="119.7" y="413.6" width="1.4" height="2.8"/>
<rect x="122.9" y="413.7" width="1.0" height="2.5" fill-opacity="0.80"/>
<rect x="119.9" y="416.2" width="1.5" height="2.6"/>
<rect x="116.9" y="416.3" width="1.0" height="2.3" fill-opacity="0.80"/>
<rect x="121.6" y="418.7" width="1.8" height="2.6"/>
<rect x="122.8" y="421.2" width="1.7" height="2.6"/>
<rect x="120.0" y="421.3" width="1.0" height="2.3" fill-opacity="0.80"/>
<rect x="122.0" y="423.7" width="1.7" height="2.6"/>
<rect x="120.2" y="426.1" width="1.6" height="2.4"/>
<rect x="119.1" y="428.8" width="1.7" height="2.4"/>
<rect x="119.2" y="441.4" width="1.8" height="4.4"/>
<rect x="121.5" y="448.5" width="1.7" height="3.0"/>
<rect x="125.6" y="448.6" width="1.0" height="2.7" fill-opacity="0.80"/>
<rect x="119.3" y="455.6" width="2.1" height="6.0"/>
<rect x="119.3" y="482.5" width="2.4" height="3.8"/>
<rect x="119.4" y="491.7" width="2.1" height="2.6"/>
<rect x="130.9" y="373.2" width="1.2" height="1.5" fill-opacity="0.70"/>
<rect x="134.2" y="373.3" width="1.0" height="1.4" fill-opacity="0.56"/>
<rect x="129.6" y="385.4" width="2.5" height="2.8"/>
<rect x="128.0" y="385.5" width="1.0" height="2.5" fill-opacity="0.80"/>
<rect x="131.4" y="388.4" width="2.6" height="2.8"/>
<rect x="130.9" y="393.8" width="3.0" height="4.0"/>
<rect x="131.4" y="401.2" width="1.1" height="1.6" fill-opacity="0.60"/>
<rect x="134.3" y="401.3" width="1.0" height="1.4" fill-opacity="0.48"/>
<rect x="129.9" y="405.8" width="2.0" height="2.4"/>
<rect x="130.2" y="411.1" width="1.4" height="2.4" fill-opacity="0.90"/>
<rect x="130.4" y="413.6" width="1.7" height="2.8"/>
<rect x="130.6" y="416.2" width="2.1" height="2.6"/>
<rect x="134.8" y="416.3" width="1.0" height="2.3" fill-opacity="0.80"/>
<rect x="131.1" y="418.7" width="2.6" height="2.6"/>
<rect x="132.0" y="421.2" width="2.6" height="2.6"/>
<rect x="131.8" y="423.7" width="2.3" height="2.6"/>
<rect x="135.6" y="423.8" width="1.0" height="2.3" fill-opacity="0.80"/>
<rect x="131.0" y="426.1" width="2.0" height="2.4"/>
<rect x="129.8" y="428.8" width="2.1" height="2.4"/>
<rect x="127.3" y="428.9" width="1.0" height="2.2" fill-opacity="0.80"/>
<rect x="130.7" y="434.8" width="1.1" height="2.4" fill-opacity="0.60"/>
<rect x="128.5" y="434.9" width="1.0" height="2.2" fill-opacity="0.48"/>
<rect x="130.8" y="438.5" width="1.2" height="2.0" fill-opacity="0.50"/>
<rect x="134.2" y="438.6" width="1.0" height="1.8" fill-opacity="0.40"/>
<rect x="130.3" y="441.4" width="2.2" height="4.4"/>
<rect x="131.2" y="448.5" width="2.2" height="3.0"/>
<rect x="129.0" y="448.6" width="1.0" height="2.7" fill-opacity="0.80"/>
<rect x="130.2" y="455.6" width="2.7" height="6.0"/>
<rect x="130.1" y="463.8" width="2.5" height="2.8"/>
<rect x="131.3" y="469.5" width="1.2" height="2.0" fill-opacity="0.50"/>
<rect x="130.6" y="476.6" width="2.1" height="2.8"/>
<rect x="128.6" y="476.7" width="1.0" height="2.5" fill-opacity="0.80"/>
<rect x="129.6" y="482.5" width="3.1" height="3.8"/>
<rect x="130.1" y="491.7" width="2.7" height="2.6"/>
<rect x="127.8" y="491.8" width="1.0" height="2.3" fill-opacity="0.80"/>
<rect x="130.3" y="499.1" width="2.7" height="2.8"/>
<rect x="130.0" y="501.6" width="2.9" height="2.8"/>
<rect x="134.3" y="501.7" width="1.0" height="2.5" fill-opacity="0.80"/>
<rect x="129.9" y="504.1" width="2.8" height="2.8"/>
<rect x="129.8" y="509.1" width="3.1" height="2.8"/>
<rect x="129.6" y="511.6" width="3.4" height="2.8"/>
<rect x="129.8" y="514.1" width="3.1" height="2.8"/>
<rect x="130.0" y="516.6" width="2.9" height="2.8"/>
<rect x="128.8" y="516.7" width="1.0" height="2.5" fill-opacity="0.80"/>
<rect x="129.7" y="519.1" width="3.0" height="2.8"/>
<rect x="134.6" y="519.2" width="1.0" height="2.5" fill-opacity="0.80"/>
<rect x="130.4" y="521.6" width="2.8" height="2.8"/>
<rect x="133.5" y="521.7" width="1.0" height="2.5" fill-opacity="0.80"/>
<rect x="129.4" y="527.4" width="4.3" height="2.0"/>
<rect x="130.0" y="530.0" width="3.1" height="2.6"/>
<rect x="148.8" y="373.2" width="1.3" height="1.5" fill-opacity="0.70"/>
<rect x="146.9" y="385.4" width="2.2" height="2.8"/>
<rect x="153.2" y="388.4" width="2.6" height="2.8"/>
<rect x="152.8" y="393.8" width="2.8" height="4.0"/>
<rect x="157.3" y="394.0" width="1.0" height="3.6" fill-opacity="0.80"/>
<rect x="148.9" y="401.2" width="1.1" height="1.6" fill-opacity="0.60"/>
<rect x="151.5" y="401.3" width="1.0" height="1.4" fill-opacity="0.48"/>
<rect x="147.3" y="405.8" width="1.9" height="2.4"/>
<rect x="147.4" y="411.1" width="1.3" height="2.4" fill-opacity="0.90"/>
<rect x="147.8" y="413.6" width="1.5" height="2.8"/>
<rect x="148.3" y="416.2" width="1.8" height="2.6"/>
<rect x="153.8" y="418.7" width="1.9" height="2.6"/>
<rect x="153.8" y="421.2" width="2.6" height="2.6"/>
<rect x="157.5" y="421.3" width="1.0" height="2.3" fill-opacity="0.80"/>
<rect x="154.3" y="423.7" width="2.1" height="2.6"/>
<rect x="148.4" y="426.1" width="1.9" height="2.4"/>
<rect x="147.4" y="428.8" width="2.5" height="2.4"/>
<rect x="147.7" y="434.8" width="1.4" height="2.4" fill-opacity="0.60"/>
<rect x="144.4" y="434.9" width="1.0" height="2.2" fill-opacity="0.48"/>
<rect x="148.2" y="438.5" width="1.0" height="2.0" fill-opacity="0.50"/>
<rect x="145.3" y="438.6" width="1.0" height="1.8" fill-opacity="0.40"/>
<rect x="147.8" y="441.4" width="2.4" height="4.4"/>
<rect x="146.2" y="441.6" width="1.0" height="4.0" fill-opacity="0.80"/>
<rect x="153.2" y="448.5" width="2.3" height="3.0"/>
<rect x="156.2" y="448.6" width="1.0" height="2.7" fill-opacity="0.80"/>
<rect x="147.7" y="455.6" width="2.7" height="6.0"/>
<rect x="152.5" y="455.9" width="1.0" height="5.4" fill-opacity="0.80"/>
<rect x="148.3" y="463.8" width="2.0" height="2.8"/>
<rect x="151.1" y="463.9" width="1.0" height="2.5" fill-opacity="0.80"/>
<rect x="148.4" y="469.5" width="1.1" height="2.0" fill-opacity="0.50"/>
<rect x="148.2" y="476.6" width="2.1" height="2.8"/>
<rect x="145.6" y="476.7" width="1.0" height="2.5" fill-opacity="0.80"/>
<rect x="147.3" y="482.5" width="3.0" height="3.8"/>
<rect x="152.0" y="482.7" width="1.0" height="3.4" fill-opacity="0.80"/>
<rect x="148.2" y="487.6" width="1.9" height="2.2"/>
<rect x="147.5" y="491.7" width="2.7" height="2.6"/>
<rect x="151.3" y="491.8" width="1.0" height="2.3" fill-opacity="0.80"/>
<rect x="147.5" y="496.6" width="2.8" height="2.8"/>
<rect x="147.1" y="499.1" width="3.4" height="2.8"/>
<rect x="144.5" y="499.2" width="1.0" height="2.5" fill-opacity="0.80"/>
<rect x="147.6" y="501.6" width="2.7" height="2.8"/>
<rect x="147.5" y="504.1" width="3.2" height="2.8"/>
<rect x="151.0" y="504.2" width="1.0" height="2.5" fill-opacity="0.80"/>
<rect x="147.5" y="506.6" width="3.1" height="2.8"/>
<rect x="145.1" y="506.7" width="1.0" height="2.5" fill-opacity="0.80"/>
<rect x="147.2" y="509.1" width="3.1" height="2.8"/>
<rect x="147.5" y="511.6" width="3.0" height="2.8"/>
<rect x="147.5" y="516.6" width="2.8" height="2.8"/>
<rect x="151.2" y="516.7" width="1.0" height="2.5" fill-opacity="0.80"/>
<rect x="147.4" y="519.1" width="3.2" height="2.8"/>
<rect x="147.5" y="521.6" width="2.7" height="2.8"/>
<rect x="145.3" y="521.7" width="1.0" height="2.5" fill-opacity="0.80"/>
<rect x="147.0" y="527.4" width="4.1" height="2.0"/>
<rect x="147.4" y="530.0" width="3.3" height="2.6"/>
<rect x="163.4" y="373.2" width="1.2" height="1.5" fill-opacity="0.70"/>
<rect x="163.0" y="381.9" width="1.0" height="1.2" fill-opacity="0.40"/>
<rect x="161.2" y="385.4" width="2.2" height="2.8"/>
<rect x="165.5" y="385.5" width="1.0" height="2.5" fill-opacity="0.80"/>
<rect x="163.3" y="388.4" width="2.1" height="2.8"/>
<rect x="163.2" y="393.8" width="2.4" height="4.0"/>
<rect x="161.9" y="405.8" width="2.2" height="2.4"/>
<rect x="166.2" y="405.9" width="1.0" height="2.2" fill-opacity="0.80"/>
<rect x="162.6" y="411.1" width="1.0" height="2.4" fill-opacity="0.90"/>
<rect x="162.3" y="413.6" width="1.6" height="2.8"/>
<rect x="162.7" y="416.2" width="1.6" height="2.6"/>
<rect x="163.2" y="418.7" width="2.4" height="2.6"/>
<rect x="161.7" y="418.8" width="1.0" height="2.3" fill-opacity="0.80"/>
<rect x="164.3" y="421.2" width="2.6" height="2.6"/>
<rect x="164.0" y="423.7" width="1.9" height="2.6"/>
<rect x="163.2" y="426.1" width="2.1" height="2.4"/>
<rect x="162.1" y="428.8" width="1.9" height="2.4"/>
<rect x="160.1" y="428.9" width="1.0" height="2.2" fill-opacity="0.80"/>
<rect x="162.9" y="434.8" width="1.1" height="2.4" fill-opacity="0.60"/>
<rect x="162.6" y="438.5" width="1.0" height="2.0" fill-opacity="0.50"/>
<rect x="162.3" y="441.4" width="2.1" height="4.4"/>
<rect x="163.5" y="448.5" width="2.5" height="3.0"/>
<rect x="162.1" y="455.6" width="2.4" height="6.0"/>
<rect x="165.5" y="455.9" width="1.0" height="5.4" fill-opacity="0.80"/>
<rect x="162.4" y="463.8" width="2.4" height="2.8"/>
<rect x="159.5" y="463.9" width="1.0" height="2.5" fill-opacity="0.80"/>
<rect x="163.3" y="469.5" width="1.1" height="2.0" fill-opacity="0.50"/>
<rect x="163.3" y="472.3" width="1.0" height="1.8" fill-opacity="0.50"/>
<rect x="162.3" y="476.6" width="2.5" height="2.8"/>
<rect x="159.6" y="476.7" width="1.0" height="2.5" fill-opacity="0.80"/>
<rect x="162.1" y="482.5" width="3.0" height="3.8"/>
<rect x="162.8" y="487.6" width="1.9" height="2.2"/>
<rect x="162.0" y="491.7" width="3.0" height="2.6"/>
<rect x="160.2" y="491.8" width="1.0" height="2.3" fill-opacity="0.80"/>
<rect x="161.9" y="496.6" width="3.1" height="2.8"/>
<rect x="162.0" y="499.1" width="2.8" height="2.8"/>
<rect x="162.0" y="501.6" width="2.9" height="2.8"/>
<rect x="162.1" y="504.1" width="3.1" height="2.8"/>
<rect x="161.7" y="506.6" width="3.4" height="2.8"/>
<rect x="162.2" y="509.1" width="2.9" height="2.8"/>
<rect x="161.9" y="511.6" width="3.2" height="2.8"/>
<rect x="161.7" y="514.1" width="3.3" height="2.8"/>
<rect x="162.0" y="516.6" width="3.3" height="2.8"/>
<rect x="162.0" y="519.1" width="3.0" height="2.8"/>
<rect x="160.5" y="519.2" width="1.0" height="2.5" fill-opacity="0.80"/>
<rect x="162.1" y="521.6" width="3.0" height="2.8"/>
<rect x="162.0" y="527.4" width="3.5" height="2.0"/>
<rect x="162.0" y="530.0" width="3.1" height="2.6"/>
<rect x="166.0" y="530.1" width="1.0" height="2.3" fill-opacity="0.80"/>
<rect x="177.6" y="373.2" width="1.0" height="1.5" fill-opacity="0.70"/>
<rect x="175.7" y="385.4" width="2.0" height="2.8"/>
<rect x="173.8" y="385.5" width="1.0" height="2.5" fill-opacity="0.80"/>
<rect x="178.3" y="388.4" width="1.6" height="2.8"/>
<rect x="182.5" y="388.5" width="1.0" height="2.5" fill-opacity="0.80"/>
<rect x="177.6" y="393.8" width="2.1" height="4.0"/>
<rect x="181.9" y="394.0" width="1.0" height="3.6" fill-opacity="0.80"/>
<rect x="176.8" y="405.8" width="1.8" height="2.4"/>
<rect x="181.2" y="405.9" width="1.0" height="2.2" fill-opacity="0.80"/>
<rect x="176.7" y="411.1" width="1.0" height="2.4" fill-opacity="0.90"/>
<rect x="180.5" y="411.2" width="1.0" height="2.2" fill-opacity="0.72"/>
<rect x="176.8" y="413.6" width="1.2" height="2.8"/>
<rect x="173.4" y="413.7" width="1.0" height="2.5" fill-opacity="0.80"/>
<rect x="177.9" y="416.2" width="1.3" height="2.6"/>
<rect x="178.3" y="418.7" width="1.6" height="2.6"/>
<rect x="178.9" y="421.2" width="1.6" height="2.6"/>
<rect x="178.6" y="423.7" width="2.0" height="2.6"/>
<rect x="177.9" y="426.1" width="1.8" height="2.4"/>
<rect x="176.9" y="428.8" width="1.8" height="2.4"/>
<rect x="177.0" y="434.8" width="1.0" height="2.4" fill-opacity="0.60"/>
<rect x="174.5" y="434.9" width="1.0" height="2.2" fill-opacity="0.48"/>
<rect x="176.7" y="441.4" width="1.8" height="4.4"/>
<rect x="178.0" y="448.5" width="1.7" height="3.0"/>
<rect x="174.9" y="448.6" width="1.0" height="2.7" fill-opacity="0.80"/>
<rect x="192.2" y="373.2" width="1.4" height="1.5" fill-opacity="0.70"/>
<rect x="192.7" y="381.9" width="1.0" height="1.2" fill-opacity="0.40"/>
<rect x="190.6" y="385.4" width="2.5" height="2.8"/>
<rect x="194.3" y="385.5" width="1.0" height="2.5" fill-opacity="0.80"/>
<rect x="192.8" y="388.4" width="2.7" height="2.8"/>
<rect x="189.8" y="388.5" width="1.0" height="2.5" fill-opacity="0.80"/>
<rect x="192.6" y="393.8" width="2.8" height="4.0"/>
<rect x="192.9" y="401.2" width="1.0" height="1.6" fill-opacity="0.60"/>
<rect x="195.4" y="401.3" width="1.0" height="1.4" fill-opacity="0.48"/>
<rect x="191.4" y="405.8" width="2.0" height="2.4"/>
<rect x="191.5" y="411.1" width="1.1" height="2.4" fill-opacity="0.90"/>
<rect x="194.3" y="411.2" width="1.0" height="2.2" fill-opacity="0.72"/>
<rect x="192.3" y="413.6" width="1.4" height="2.8"/>
<rect x="196.2" y="413.7" width="1.0" height="2.5" fill-opacity="0.80"/>
<rect x="192.4" y="416.2" width="1.6" height="2.6"/>
<rect x="193.5" y="418.7" width="1.9" height="2.6"/>
<rect x="193.8" y="421.2" width="2.5" height="2.6"/>
<rect x="198.2" y="421.3" width="1.0" height="2.3" fill-opacity="0.80"/>
<rect x="193.5" y="423.7" width="2.1" height="2.6"/>
<rect x="192.7" y="426.1" width="2.0" height="2.4"/>
<rect x="191.3" y="428.8" width="2.2" height="2.4"/>
<rect x="192.0" y="434.8" width="1.1" height="2.4" fill-opacity="0.60"/>
<rect x="191.8" y="441.4" width="2.3" height="4.4"/>
<rect x="189.2" y="441.6" width="1.0" height="4.0" fill-opacity="0.80"/>
<rect x="193.2" y="448.5" width="2.1" height="3.0"/>
<rect x="196.5" y="448.6" width="1.0" height="2.7" fill-opacity="0.80"/>
<rect x="191.9" y="455.6" width="2.1" height="6.0"/>
<rect x="195.6" y="455.9" width="1.0" height="5.4" fill-opacity="0.80"/>
<rect x="191.9" y="476.6" width="2.2" height="2.8"/>
<rect x="191.4" y="491.7" width="2.9" height="2.6"/>
<rect x="191.2" y="496.6" width="3.1" height="2.8"/>
<rect x="191.4" y="499.1" width="2.8" height="2.8"/>
<rect x="191.4" y="501.6" width="2.9" height="2.8"/>
<rect x="191.3" y="504.1" width="3.2" height="2.8"/>
<rect x="189.4" y="504.2" width="1.0" height="2.5" fill-opacity="0.80"/>
<rect x="191.4" y="506.6" width="3.0" height="2.8"/>
<rect x="189.0" y="506.7" width="1.0" height="2.5" fill-opacity="0.80"/>
<rect x="191.5" y="509.1" width="3.0" height="2.8"/>
<rect x="191.3" y="511.6" width="3.3" height="2.8"/>
<rect x="194.9" y="511.7" width="1.0" height="2.5" fill-opacity="0.80"/>
<rect x="191.4" y="516.6" width="3.0" height="2.8"/>
<rect x="191.9" y="519.1" width="2.8" height="2.8"/>
<rect x="191.2" y="521.6" width="3.0" height="2.8"/>
<rect x="189.8" y="521.7" width="1.0" height="2.5" fill-opacity="0.80"/>
<rect x="191.6" y="527.4" width="3.2" height="2.0"/>
<rect x="191.3" y="530.0" width="3.8" height="2.6"/>
<rect x="204.4" y="373.2" width="1.0" height="1.5" fill-opacity="0.70"/>
<rect x="203.2" y="385.4" width="1.8" height="2.8"/>
<rect x="203.6" y="393.8" width="1.9" height="4.0"/>
<rect x="203.4" y="411.1" width="1.0" height="2.4" fill-opacity="0.90"/>
<rect x="204.6" y="416.2" width="1.3" height="2.6"/>
<rect x="204.5" y="418.7" width="1.6" height="2.6"/>
<rect x="201.5" y="418.8" width="1.0" height="2.3" fill-opacity="0.80"/>
<rect x="204.8" y="421.2" width="1.9" height="2.6"/>
<rect x="203.3" y="428.8" width="1.6" height="2.4"/>
<rect x="203.8" y="434.8" width="1.0" height="2.4" fill-opacity="0.60"/>
<rect x="200.9" y="434.9" width="1.0" height="2.2" fill-opacity="0.48"/>
<rect x="203.4" y="441.4" width="2.0" height="4.4"/>
<rect x="204.1" y="448.5" width="2.0" height="3.0"/>
<rect x="203.8" y="463.8" width="1.7" height="2.8"/>
<rect x="203.6" y="504.1" width="2.0" height="2.8"/>
<rect x="219.7" y="491.7" width="2.5" height="2.6"/>
<rect x="220.4" y="501.6" width="2.1" height="2.8"/>
<rect x="220.0" y="511.6" width="2.6" height="2.8"/>
<rect x="227.2" y="373.2" width="1.3" height="1.5" fill-opacity="0.70"/>
<rect x="225.2" y="385.4" width="2.8" height="2.8"/>
<rect x="220.7" y="388.4" width="2.7" height="2.8"/>
<rect x="220.9" y="393.8" width="2.3" height="4.0"/>
<rect x="227.3" y="401.2" width="1.0" height="1.6" fill-opacity="0.60"/>
<rect x="226.2" y="405.8" width="2.2" height="2.4"/>
<rect x="222.8" y="405.9" width="1.0" height="2.2" fill-opacity="0.80"/>
<rect x="226.4" y="411.1" width="1.1" height="2.4" fill-opacity="0.90"/>
<rect x="226.9" y="413.6" width="1.3" height="2.8"/>
<rect x="223.6" y="413.7" width="1.0" height="2.5" fill-opacity="0.80"/>
<rect x="227.2" y="416.2" width="1.6" height="2.6"/>
<rect x="224.7" y="416.3" width="1.0" height="2.3" fill-opacity="0.80"/>
<rect x="221.7" y="418.7" width="1.9" height="2.6"/>
<rect x="222.2" y="421.2" width="2.2" height="2.6"/>
<rect x="221.2" y="423.7" width="2.4" height="2.6"/>
<rect x="224.4" y="423.8" width="1.0" height="2.3" fill-opacity="0.80"/>
<rect x="227.3" y="426.1" width="2.1" height="2.4"/>
<rect x="226.3" y="428.8" width="2.1" height="2.4"/>
<rect x="226.9" y="434.8" width="1.2" height="2.4" fill-opacity="0.60"/>
<rect x="226.6" y="438.5" width="1.0" height="2.0" fill-opacity="0.50"/>
<rect x="226.5" y="441.4" width="2.4" height="4.4"/>
<rect x="221.2" y="448.5" width="2.2" height="3.0"/>
<rect x="226.8" y="455.6" width="2.2" height="6.0"/>
<rect x="230.4" y="455.9" width="1.0" height="5.4" fill-opacity="0.80"/>
<rect x="226.7" y="463.8" width="2.2" height="2.8"/>
<rect x="227.5" y="472.3" width="1.0" height="1.8" fill-opacity="0.50"/>
<rect x="229.8" y="472.4" width="1.0" height="1.6" fill-opacity="0.40"/>
<rect x="226.8" y="476.6" width="2.3" height="2.8"/>
<rect x="226.4" y="482.5" width="3.4" height="3.8"/>
<rect x="227.0" y="487.6" width="2.0" height="2.2"/>
<rect x="226.2" y="491.7" width="2.8" height="2.6"/>
<rect x="226.6" y="496.6" width="3.0" height="2.8"/>
<rect x="226.0" y="499.1" width="3.3" height="2.8"/>
<rect x="226.5" y="501.6" width="3.0" height="2.8"/>
<rect x="230.3" y="501.7" width="1.0" height="2.5" fill-opacity="0.80"/>
<rect x="226.4" y="504.1" width="3.3" height="2.8"/>
<rect x="226.5" y="506.6" width="2.8" height="2.8"/>
<rect x="226.4" y="509.1" width="2.6" height="2.8"/>
<rect x="223.5" y="509.2" width="1.0" height="2.5" fill-opacity="0.80"/>
<rect x="226.4" y="511.6" width="2.9" height="2.8"/>
<rect x="226.2" y="514.1" width="2.7" height="2.8"/>
<rect x="226.1" y="516.6" width="2.9" height="2.8"/>
<rect x="226.3" y="519.1" width="2.9" height="2.8"/>
<rect x="226.8" y="521.6" width="2.7" height="2.8"/>
<rect x="225.9" y="527.4" width="3.7" height="2.0"/>
<rect x="224.4" y="527.5" width="1.0" height="1.8" fill-opacity="0.80"/>
<rect x="226.6" y="530.0" width="3.2" height="2.6"/>
<rect x="252.2" y="373.2" width="1.4" height="1.5" fill-opacity="0.70"/>
<rect x="255.1" y="373.3" width="1.0" height="1.4" fill-opacity="0.56"/>
<rect x="252.2" y="381.9" width="1.0" height="1.2" fill-opacity="0.40"/>
<rect x="248.9" y="382.0" width="1.0" height="1.1" fill-opacity="0.32"/>
<rect x="250.3" y="385.4" width="2.5" height="2.8"/>
<rect x="252.3" y="388.4" width="2.5" height="2.8"/>
<rect x="252.0" y="393.8" width="2.8" height="4.0"/>
<rect x="251.9" y="401.2" width="1.0" height="1.6" fill-opacity="0.60"/>
<rect x="255.4" y="401.3" width="1.0" height="1.4" fill-opacity="0.48"/>
<rect x="251.1" y="405.8" width="2.3" height="2.4"/>
<rect x="251.3" y="411.1" width="1.3" height="2.4" fill-opacity="0.90"/>
<rect x="248.0" y="411.2" width="1.0" height="2.2" fill-opacity="0.72"/>
<rect x="251.6" y="413.6" width="1.7" height="2.8"/>
<rect x="248.6" y="413.7" width="1.0" height="2.5" fill-opacity="0.80"/>
<rect x="252.1" y="416.2" width="1.7" height="2.6"/>
<rect x="255.9" y="416.3" width="1.0" height="2.3" fill-opacity="0.80"/>
<rect x="252.4" y="418.7" width="2.1" height="2.6"/>
<rect x="253.0" y="421.2" width="2.5" height="2.6"/>
<rect x="252.7" y="423.7" width="2.0" height="2.6"/>
<rect x="251.9" y="426.1" width="2.4" height="2.4"/>
<rect x="251.4" y="434.8" width="1.2" height="2.4" fill-opacity="0.60"/>
<rect x="251.4" y="441.4" width="2.1" height="4.4"/>
<rect x="252.2" y="448.5" width="2.6" height="3.0"/>
<rect x="251.4" y="455.6" width="2.2" height="6.0"/>
<rect x="248.7" y="455.9" width="1.0" height="5.4" fill-opacity="0.80"/>
<rect x="251.1" y="463.8" width="2.1" height="2.8"/>
<rect x="255.2" y="463.9" width="1.0" height="2.5" fill-opacity="0.80"/>
<rect x="252.1" y="469.5" width="1.2" height="2.0" fill-opacity="0.50"/>
<rect x="249.8" y="469.6" width="1.0" height="1.8" fill-opacity="0.40"/>
<rect x="251.6" y="476.6" width="2.4" height="2.8"/>
<rect x="250.8" y="482.5" width="3.2" height="3.8"/>
<rect x="248.7" y="482.7" width="1.0" height="3.4" fill-opacity="0.80"/>
<rect x="250.8" y="491.7" width="3.2" height="2.6"/>
<rect x="250.7" y="496.6" width="3.1" height="2.8"/>
<rect x="250.8" y="499.1" width="2.7" height="2.8"/>
<rect x="250.7" y="501.6" width="3.3" height="2.8"/>
<rect x="251.0" y="504.1" width="3.0" height="2.8"/>
<rect x="250.4" y="506.6" width="3.5" height="2.8"/>
<rect x="250.5" y="509.1" width="3.5" height="2.8"/>
<rect x="250.5" y="511.6" width="3.6" height="2.8"/>
<rect x="250.5" y="514.1" width="3.6" height="2.8"/>
<rect x="250.5" y="516.6" width="3.3" height="2.8"/>
<rect x="251.2" y="519.1" width="2.9" height="2.8"/>
<rect x="250.7" y="521.6" width="3.0" height="2.8"/>
<rect x="250.8" y="530.0" width="4.0" height="2.6"/>
<rect x="272.8" y="373.2" width="1.3" height="1.5" fill-opacity="0.70"/>
<rect x="272.8" y="381.9" width="1.0" height="1.2" fill-opacity="0.40"/>
<rect x="271.0" y="385.4" width="2.2" height="2.8"/>
<rect x="268.2" y="385.5" width="1.0" height="2.5" fill-opacity="0.80"/>
<rect x="272.8" y="388.4" width="2.4" height="2.8"/>
<rect x="272.2" y="393.8" width="2.9" height="4.0"/>
<rect x="272.4" y="401.2" width="1.1" height="1.6" fill-opacity="0.60"/>
<rect x="276.1" y="401.3" width="1.0" height="1.4" fill-opacity="0.48"/>
<rect x="271.9" y="405.8" width="1.8" height="2.4"/>
<rect x="271.7" y="411.1" width="1.3" height="2.4" fill-opacity="0.90"/>
<rect x="271.7" y="413.6" width="1.4" height="2.8"/>
<rect x="272.3" y="416.2" width="1.8" height="2.6"/>
<rect x="272.9" y="418.7" width="2.2" height="2.6"/>
<rect x="273.6" y="423.7" width="2.0" height="2.6"/>
<rect x="272.4" y="426.1" width="2.1" height="2.4"/>
<rect x="271.6" y="428.8" width="2.0" height="2.4"/>
<rect x="272.3" y="434.8" width="1.1" height="2.4" fill-opacity="0.60"/>
<rect x="275.5" y="434.9" width="1.0" height="2.2" fill-opacity="0.48"/>
<rect x="271.8" y="441.4" width="2.1" height="4.4"/>
<rect x="273.0" y="448.5" width="2.3" height="3.0"/>
<rect x="271.4" y="455.6" width="2.6" height="6.0"/>
<rect x="272.2" y="463.8" width="2.2" height="2.8"/>
<rect x="272.1" y="476.6" width="2.0" height="2.8"/>
<rect x="271.7" y="482.5" width="2.6" height="3.8"/>
<rect x="271.5" y="491.7" width="3.3" height="2.6"/>
<rect x="269.5" y="491.8" width="1.0" height="2.3" fill-opacity="0.80"/>
<rect x="271.3" y="496.6" width="3.2" height="2.8"/>
<rect x="271.3" y="499.1" width="2.9" height="2.8"/>
<rect x="274.8" y="499.2" width="1.0" height="2.5" fill-opacity="0.80"/>
<rect x="271.5" y="501.6" width="3.3" height="2.8"/>
<rect x="271.6" y="504.1" width="2.8" height="2.8"/>
<rect x="271.7" y="506.6" width="2.9" height="2.8"/>
<rect x="271.1" y="509.1" width="3.2" height="2.8"/>
<rect x="271.7" y="511.6" width="3.1" height="2.8"/>
<rect x="276.7" y="511.7" width="1.0" height="2.5" fill-opacity="0.80"/>
<rect x="271.6" y="516.6" width="2.6" height="2.8"/>
<rect x="271.4" y="519.1" width="2.8" height="2.8"/>
<rect x="269.6" y="519.2" width="1.0" height="2.5" fill-opacity="0.80"/>
<rect x="271.4" y="527.4" width="3.1" height="2.0"/>
<rect x="275.9" y="527.5" width="1.0" height="1.8" fill-opacity="0.80"/>
<rect x="271.6" y="530.0" width="3.2" height="2.6"/>
<rect x="296.0" y="373.2" width="1.3" height="1.5" fill-opacity="0.70"/>
<rect x="294.5" y="385.4" width="2.2" height="2.8"/>
<rect x="296.3" y="388.4" width="2.2" height="2.8"/>
<rect x="295.9" y="393.8" width="2.9" height="4.0"/>
<rect x="299.2" y="394.0" width="1.0" height="3.6" fill-opacity="0.80"/>
<rect x="296.4" y="401.2" width="1.1" height="1.6" fill-opacity="0.60"/>
<rect x="295.3" y="405.8" width="2.1" height="2.4"/>
<rect x="295.0" y="411.1" width="1.3" height="2.4" fill-opacity="0.90"/>
<rect x="298.3" y="411.2" width="1.0" height="2.2" fill-opacity="0.72"/>
<rect x="295.2" y="413.6" width="1.5" height="2.8"/>
<rect x="292.8" y="413.7" width="1.0" height="2.5" fill-opacity="0.80"/>
<rect x="295.8" y="416.2" width="1.8" height="2.6"/>
<rect x="296.8" y="418.7" width="2.3" height="2.6"/>
<rect x="297.2" y="421.2" width="2.4" height="2.6"/>
<rect x="295.4" y="421.3" width="1.0" height="2.3" fill-opacity="0.80"/>
<rect x="296.6" y="423.7" width="2.3" height="2.6"/>
<rect x="296.3" y="426.1" width="2.1" height="2.4"/>
<rect x="294.7" y="428.8" width="2.4" height="2.4"/>
<rect x="295.5" y="434.8" width="1.0" height="2.4" fill-opacity="0.60"/>
<rect x="295.4" y="441.4" width="2.4" height="4.4"/>
<rect x="296.6" y="448.5" width="2.0" height="3.0"/>
<rect x="293.3" y="448.6" width="1.0" height="2.7" fill-opacity="0.80"/>
<rect x="295.2" y="455.6" width="2.4" height="6.0"/>
<rect x="292.3" y="455.9" width="1.0" height="5.4" fill-opacity="0.80"/>
<rect x="295.5" y="463.8" width="2.2" height="2.8"/>
<rect x="296.0" y="469.5" width="1.0" height="2.0" fill-opacity="0.50"/>
<rect x="295.6" y="476.6" width="2.0" height="2.8"/>
<rect x="294.9" y="482.5" width="3.0" height="3.8"/>
<rect x="295.0" y="491.7" width="2.9" height="2.6"/>
<rect x="295.1" y="496.6" width="2.8" height="2.8"/>
<rect x="295.3" y="499.1" width="2.7" height="2.8"/>
<rect x="295.1" y="501.6" width="3.4" height="2.8"/>
<rect x="298.9" y="501.7" width="1.0" height="2.5" fill-opacity="0.80"/>
<rect x="295.0" y="504.1" width="3.0" height="2.8"/>
<rect x="295.0" y="506.6" width="2.9" height="2.8"/>
<rect x="299.6" y="506.7" width="1.0" height="2.5" fill-opacity="0.80"/>
<rect x="295.4" y="509.1" width="2.8" height="2.8"/>
<rect x="294.7" y="511.6" width="3.4" height="2.8"/>
<rect x="295.1" y="514.1" width="2.8" height="2.8"/>
<rect x="295.2" y="516.6" width="2.8" height="2.8"/>
<rect x="294.8" y="519.1" width="3.2" height="2.8"/>
<rect x="294.7" y="521.6" width="3.3" height="2.8"/>
<rect x="298.6" y="521.7" width="1.0" height="2.5" fill-opacity="0.80"/>
<rect x="294.3" y="527.4" width="4.1" height="2.0"/>
<rect x="294.9" y="530.0" width="3.3" height="2.6"/>
<rect x="307.7" y="418.7" width="1.4" height="2.6"/>
<rect x="306.4" y="434.8" width="1.0" height="2.4" fill-opacity="0.60"/>
<rect x="306.3" y="476.6" width="1.6" height="2.8"/>
<rect x="305.9" y="527.4" width="2.3" height="2.0"/>
<rect x="315.1" y="373.2" width="1.3" height="1.5" fill-opacity="0.70"/>
<rect x="313.7" y="385.4" width="2.1" height="2.8"/>
<rect x="318.1" y="385.5" width="1.0" height="2.5" fill-opacity="0.80"/>
<rect x="315.0" y="388.4" width="2.8" height="2.8"/>
<rect x="319.3" y="388.5" width="1.0" height="2.5" fill-opacity="0.80"/>
<rect x="315.0" y="393.8" width="2.7" height="4.0"/>
<rect x="313.9" y="405.8" width="2.1" height="2.4"/>
<rect x="313.9" y="411.1" width="1.3" height="2.4" fill-opacity="0.90"/>
<rect x="314.3" y="413.6" width="1.6" height="2.8"/>
<rect x="314.8" y="416.2" width="1.8" height="2.6"/>
<rect x="311.3" y="416.3" width="1.0" height="2.3" fill-opacity="0.80"/>
<rect x="315.6" y="418.7" width="2.2" height="2.6"/>
<rect x="316.3" y="421.2" width="2.4" height="2.6"/>
<rect x="316.0" y="423.7" width="2.3" height="2.6"/>
<rect x="320.4" y="423.8" width="1.0" height="2.3" fill-opacity="0.80"/>
<rect x="315.4" y="426.1" width="1.8" height="2.4"/>
<rect x="319.5" y="426.2" width="1.0" height="2.2" fill-opacity="0.80"/>
<rect x="314.0" y="428.8" width="1.9" height="2.4"/>
<rect x="314.6" y="434.8" width="1.1" height="2.4" fill-opacity="0.60"/>
<rect x="311.1" y="434.9" width="1.0" height="2.2" fill-opacity="0.48"/>
<rect x="313.8" y="441.4" width="2.4" height="4.4"/>
<rect x="318.0" y="441.6" width="1.0" height="4.0" fill-opacity="0.80"/>
<rect x="315.5" y="448.5" width="2.1" height="3.0"/>
<rect x="313.9" y="455.6" width="2.7" height="6.0"/>
<rect x="314.6" y="463.8" width="2.2" height="2.8"/>
<rect x="315.2" y="469.5" width="1.1" height="2.0" fill-opacity="0.50"/>
<rect x="318.0" y="469.6" width="1.0" height="1.8" fill-opacity="0.40"/>
<rect x="314.4" y="476.6" width="2.3" height="2.8"/>
<rect x="313.8" y="482.5" width="3.2" height="3.8"/>
<rect x="314.4" y="487.6" width="2.0" height="2.2"/>
<rect x="314.2" y="491.7" width="2.6" height="2.6"/>
<rect x="311.2" y="491.8" width="1.0" height="2.3" fill-opacity="0.80"/>
<rect x="314.0" y="496.6" width="2.6" height="2.8"/>
<rect x="314.0" y="499.1" width="2.8" height="2.8"/>
<rect x="317.2" y="499.2" width="1.0" height="2.5" fill-opacity="0.80"/>
<rect x="314.1" y="501.6" width="2.6" height="2.8"/>
<rect x="314.1" y="504.1" width="2.7" height="2.8"/>
<rect x="314.0" y="506.6" width="2.7" height="2.8"/>
<rect x="314.2" y="509.1" width="3.1" height="2.8"/>
<rect x="313.9" y="511.6" width="3.0" height="2.8"/>
<rect x="313.9" y="514.1" width="3.4" height="2.8"/>
<rect x="313.8" y="516.6" width="3.0" height="2.8"/>
<rect x="314.1" y="519.1" width="2.7" height="2.8"/>
<rect x="314.3" y="521.6" width="2.9" height="2.8"/>
<rect x="313.8" y="527.4" width="3.6" height="2.0"/>
<rect x="313.8" y="530.0" width="3.5" height="2.6"/>
<rect x="318.1" y="411.1" width="1.0" height="2.4" fill-opacity="0.90"/>
<rect x="319.5" y="426.1" width="1.2" height="2.4"/>
<rect x="318.2" y="434.8" width="1.0" height="2.4" fill-opacity="0.60"/>
<rect x="319.5" y="448.5" width="1.7" height="3.0"/>
<rect x="318.0" y="482.5" width="2.1" height="3.8"/>
<rect x="338.7" y="373.2" width="1.3" height="1.5" fill-opacity="0.70"/>
<rect x="337.1" y="385.4" width="2.6" height="2.8"/>
<rect x="335.5" y="385.5" width="1.0" height="2.5" fill-opacity="0.80"/>
<rect x="344.2" y="388.4" width="2.3" height="2.8"/>
<rect x="344.1" y="393.8" width="2.4" height="4.0"/>
<rect x="341.9" y="394.0" width="1.0" height="3.6" fill-opacity="0.80"/>
<rect x="337.6" y="405.8" width="2.0" height="2.4"/>
<rect x="337.9" y="411.1" width="1.4" height="2.4" fill-opacity="0.90"/>
<rect x="338.2" y="413.6" width="1.5" height="2.8"/>
<rect x="338.4" y="416.2" width="1.7" height="2.6"/>
<rect x="344.6" y="418.7" width="2.0" height="2.6"/>
<rect x="345.1" y="421.2" width="2.7" height="2.6"/>
<rect x="345.2" y="423.7" width="2.0" height="2.6"/>
<rect x="338.7" y="426.1" width="1.8" height="2.4"/>
<rect x="336.1" y="426.2" width="1.0" height="2.2" fill-opacity="0.80"/>
<rect x="337.3" y="428.8" width="2.4" height="2.4"/>
<rect x="341.2" y="428.9" width="1.0" height="2.2" fill-opacity="0.80"/>
<rect x="337.6" y="441.4" width="2.5" height="4.4"/>
<rect x="344.3" y="448.5" width="2.7" height="3.0"/>
<rect x="347.9" y="448.6" width="1.0" height="2.7" fill-opacity="0.80"/>
<rect x="337.9" y="455.6" width="2.7" height="6.0"/>
<rect x="341.3" y="455.9" width="1.0" height="5.4" fill-opacity="0.80"/>
<rect x="338.3" y="463.8" width="2.0" height="2.8"/>
<rect x="338.7" y="476.6" width="1.9" height="2.8"/>
<rect x="337.8" y="482.5" width="3.3" height="3.8"/>
<rect x="341.3" y="482.7" width="1.0" height="3.4" fill-opacity="0.80"/>
<rect x="337.8" y="491.7" width="2.6" height="2.6"/>
<rect x="337.5" y="496.6" width="2.9" height="2.8"/>
<rect x="334.6" y="496.7" width="1.0" height="2.5" fill-opacity="0.80"/>
<rect x="337.4" y="499.1" width="3.4" height="2.8"/>
<rect x="342.5" y="499.2" width="1.0" height="2.5" fill-opacity="0.80"/>
<rect x="337.5" y="501.6" width="2.9" height="2.8"/>
<rect x="340.9" y="501.7" width="1.0" height="2.5" fill-opacity="0.80"/>
<rect x="337.3" y="504.1" width="3.4" height="2.8"/>
<rect x="334.8" y="504.2" width="1.0" height="2.5" fill-opacity="0.80"/>
<rect x="337.4" y="506.6" width="3.2" height="2.8"/>
<rect x="337.7" y="509.1" width="3.0" height="2.8"/>
<rect x="338.1" y="514.1" width="2.7" height="2.8"/>
<rect x="338.1" y="516.6" width="2.7" height="2.8"/>
<rect x="337.9" y="519.1" width="2.7" height="2.8"/>
<rect x="341.5" y="519.2" width="1.0" height="2.5" fill-opacity="0.80"/>
<rect x="337.7" y="521.6" width="2.9" height="2.8"/>
<rect x="337.1" y="527.4" width="3.8" height="2.0"/>
<rect x="335.3" y="527.5" width="1.0" height="1.8" fill-opacity="0.80"/>
<rect x="337.7" y="530.0" width="2.9" height="2.6"/>
<rect x="342.5" y="385.4" width="1.7" height="2.8"/>
<rect x="344.7" y="393.8" width="2.0" height="4.0"/>
<rect x="345.4" y="421.2" width="1.9" height="2.6"/>
<rect x="343.7" y="511.6" width="2.0" height="2.8"/>
<rect x="353.7" y="393.8" width="1.9" height="4.0"/>
<rect x="352.7" y="413.6" width="1.1" height="2.8"/>
<rect x="348.9" y="413.7" width="1.0" height="2.5" fill-opacity="0.80"/>
<rect x="353.1" y="416.2" width="1.5" height="2.6"/>
<rect x="354.2" y="421.2" width="2.1" height="2.6"/>
<rect x="352.1" y="421.3" width="1.0" height="2.3" fill-opacity="0.80"/>
<rect x="354.3" y="423.7" width="1.6" height="2.6"/>
<rect x="352.1" y="428.8" width="1.5" height="2.4"/>
<rect x="352.4" y="434.8" width="1.1" height="2.4" fill-opacity="0.60"/>
<rect x="352.2" y="441.4" width="2.1" height="4.4"/>
<rect x="353.0" y="469.5" width="1.0" height="2.0" fill-opacity="0.50"/>
<rect x="352.8" y="487.6" width="1.5" height="2.2"/>
<rect x="352.5" y="509.1" width="2.4" height="2.8"/>
<rect x="352.3" y="511.6" width="2.5" height="2.8"/>
<rect x="349.3" y="511.7" width="1.0" height="2.5" fill-opacity="0.80"/>
<rect x="361.6" y="373.2" width="1.0" height="1.5" fill-opacity="0.70"/>
<rect x="361.6" y="381.9" width="1.0" height="1.2" fill-opacity="0.40"/>
<rect x="359.0" y="382.0" width="1.0" height="1.1" fill-opacity="0.32"/>
<rect x="361.0" y="405.8" width="1.8" height="2.4"/>
<rect x="361.0" y="411.1" width="1.1" height="2.4" fill-opacity="0.90"/>
<rect x="360.9" y="413.6" width="1.2" height="2.8"/>
<rect x="361.7" y="416.2" width="1.4" height="2.6"/>
<rect x="362.2" y="426.1" width="1.2" height="2.4"/>
<rect x="360.3" y="428.8" width="2.0" height="2.4"/>
<rect x="357.6" y="428.9" width="1.0" height="2.2" fill-opacity="0.80"/>
<rect x="361.0" y="434.8" width="1.0" height="2.4" fill-opacity="0.60"/>
<rect x="364.0" y="434.9" width="1.0" height="2.2" fill-opacity="0.48"/>
<rect x="360.9" y="441.4" width="2.1" height="4.4"/>
<rect x="364.9" y="441.6" width="1.0" height="4.0" fill-opacity="0.80"/>
<rect x="361.1" y="455.6" width="2.1" height="6.0"/>
<rect x="361.3" y="463.8" width="1.9" height="2.8"/>
<rect x="361.4" y="476.6" width="1.7" height="2.8"/>
<rect x="361.0" y="482.5" width="2.2" height="3.8"/>
<rect x="359.0" y="482.7" width="1.0" height="3.4" fill-opacity="0.80"/>
<rect x="360.9" y="487.6" width="1.8" height="2.2"/>
<rect x="357.6" y="487.7" width="1.0" height="2.0" fill-opacity="0.80"/>
<rect x="361.0" y="491.7" width="2.3" height="2.6"/>
<rect x="359.3" y="491.8" width="1.0" height="2.3" fill-opacity="0.80"/>
<rect x="361.2" y="496.6" width="2.2" height="2.8"/>
<rect x="361.2" y="499.1" width="2.2" height="2.8"/>
<rect x="360.8" y="501.6" width="2.5" height="2.8"/>
<rect x="360.4" y="504.1" width="2.7" height="2.8"/>
<rect x="357.7" y="504.2" width="1.0" height="2.5" fill-opacity="0.80"/>
<rect x="360.4" y="506.6" width="2.7" height="2.8"/>
<rect x="357.4" y="506.7" width="1.0" height="2.5" fill-opacity="0.80"/>
<rect x="361.0" y="509.1" width="2.3" height="2.8"/>
<rect x="365.4" y="509.2" width="1.0" height="2.5" fill-opacity="0.80"/>
<rect x="360.5" y="511.6" width="2.4" height="2.8"/>
<rect x="360.6" y="516.6" width="2.7" height="2.8"/>
<rect x="360.6" y="519.1" width="2.7" height="2.8"/>
<rect x="360.4" y="521.6" width="2.7" height="2.8"/>
<rect x="360.6" y="527.4" width="2.6" height="2.0"/>
<rect x="357.6" y="527.5" width="1.0" height="1.8" fill-opacity="0.80"/>
<rect x="361.5" y="530.0" width="1.9" height="2.6"/>
<rect x="212.0" y="373.2" width="1.0" height="1.5" fill-opacity="0.70"/>
<rect x="300.0" y="373.2" width="1.0" height="1.5" fill-opacity="0.70"/>
<rect x="317.0" y="373.2" width="1.0" height="1.5" fill-opacity="0.70"/>
<rect x="226.0" y="381.9" width="1.0" height="1.2" fill-opacity="0.70"/>
<rect x="296.0" y="381.9" width="1.0" height="1.2" fill-opacity="0.70"/>
<rect x="313.0" y="381.9" width="1.0" height="1.2" fill-opacity="0.70"/>
<rect x="78.0" y="385.6" width="1.0" height="2.4" fill-opacity="0.70"/>
<rect x="106.0" y="385.6" width="1.0" height="2.4" fill-opacity="0.70"/>
<rect x="109.0" y="385.6" width="1.0" height="2.4" fill-opacity="0.70"/>
<rect x="180.0" y="385.6" width="1.0" height="2.4" fill-opacity="0.70"/>
<rect x="211.0" y="385.6" width="1.0" height="2.4" fill-opacity="0.70"/>
<rect x="244.0" y="385.6" width="1.0" height="2.4" fill-opacity="0.70"/>
<rect x="288.0" y="385.6" width="1.0" height="2.4" fill-opacity="0.70"/>
<rect x="294.0" y="385.6" width="1.0" height="2.4" fill-opacity="0.70"/>
<rect x="317.0" y="385.6" width="1.0" height="2.4" fill-opacity="0.70"/>
<rect x="337.0" y="385.6" width="1.0" height="2.4" fill-opacity="0.70"/>
<rect x="84.0" y="388.6" width="1.0" height="2.4" fill-opacity="0.70"/>
<rect x="120.0" y="388.6" width="1.0" height="2.4" fill-opacity="0.70"/>
<rect x="126.0" y="388.6" width="1.0" height="2.4" fill-opacity="0.70"/>
<rect x="134.0" y="388.6" width="1.0" height="2.4" fill-opacity="0.70"/>
<rect x="190.0" y="388.6" width="1.0" height="2.4" fill-opacity="0.70"/>
<rect x="206.0" y="388.6" width="1.0" height="2.4" fill-opacity="0.70"/>
<rect x="227.0" y="388.6" width="1.0" height="2.4" fill-opacity="0.70"/>
<rect x="248.0" y="388.6" width="1.0" height="2.4" fill-opacity="0.70"/>
<rect x="301.0" y="388.6" width="1.0" height="2.4" fill-opacity="0.70"/>
<rect x="306.0" y="388.6" width="1.0" height="2.4" fill-opacity="0.70"/>
<rect x="336.0" y="388.6" width="1.0" height="2.4" fill-opacity="0.70"/>
<rect x="116.0" y="394.6" width="1.0" height="2.4" fill-opacity="0.70"/>
<rect x="122.0" y="394.6" width="1.0" height="2.4" fill-opacity="0.70"/>
<rect x="129.0" y="394.6" width="1.0" height="2.4" fill-opacity="0.70"/>
<rect x="226.0" y="394.6" width="1.0" height="2.4" fill-opacity="0.70"/>
<rect x="324.0" y="394.6" width="1.0" height="2.4" fill-opacity="0.70"/>
<rect x="97.0" y="401.2" width="1.0" height="1.6" fill-opacity="0.70"/>
<rect x="174.0" y="401.2" width="1.0" height="1.6" fill-opacity="0.70"/>
<rect x="230.0" y="401.2" width="1.0" height="1.6" fill-opacity="0.70"/>
<rect x="78.0" y="405.8" width="1.0" height="2.4" fill-opacity="0.70"/>
<rect x="85.0" y="405.8" width="1.0" height="2.4" fill-opacity="0.70"/>
<rect x="138.0" y="405.8" width="1.0" height="2.4" fill-opacity="0.70"/>
<rect x="152.0" y="405.8" width="1.0" height="2.4" fill-opacity="0.70"/>
<rect x="165.0" y="405.8" width="1.0" height="2.4" fill-opacity="0.70"/>
<rect x="183.0" y="405.8" width="1.0" height="2.4" fill-opacity="0.70"/>
<rect x="188.0" y="405.8" width="1.0" height="2.4" fill-opacity="0.70"/>
<rect x="274.0" y="405.8" width="1.0" height="2.4" fill-opacity="0.70"/>
<rect x="318.0" y="405.8" width="1.0" height="2.4" fill-opacity="0.70"/>
<rect x="76.0" y="411.1" width="1.0" height="2.4" fill-opacity="0.70"/>
<rect x="102.0" y="411.1" width="1.0" height="2.4" fill-opacity="0.70"/>
<rect x="157.0" y="411.1" width="1.0" height="2.4" fill-opacity="0.70"/>
<rect x="223.0" y="411.1" width="1.0" height="2.4" fill-opacity="0.70"/>
<rect x="315.0" y="411.1" width="1.0" height="2.4" fill-opacity="0.70"/>
<rect x="101.0" y="413.8" width="1.0" height="2.4" fill-opacity="0.70"/>
<rect x="155.0" y="413.8" width="1.0" height="2.4" fill-opacity="0.70"/>
<rect x="302.0" y="413.8" width="1.0" height="2.4" fill-opacity="0.70"/>
<rect x="81.0" y="416.3" width="1.0" height="2.4" fill-opacity="0.70"/>
<rect x="95.0" y="416.3" width="1.0" height="2.4" fill-opacity="0.70"/>
<rect x="308.0" y="418.8" width="1.0" height="2.4" fill-opacity="0.70"/>
<rect x="120.0" y="421.3" width="1.0" height="2.4" fill-opacity="0.70"/>
<rect x="161.0" y="421.3" width="1.0" height="2.4" fill-opacity="0.70"/>
<rect x="71.0" y="423.8" width="1.0" height="2.4" fill-opacity="0.70"/>
<rect x="123.0" y="423.8" width="1.0" height="2.4" fill-opacity="0.70"/>
<rect x="168.0" y="423.8" width="1.0" height="2.4" fill-opacity="0.70"/>
<rect x="178.0" y="423.8" width="1.0" height="2.4" fill-opacity="0.70"/>
<rect x="223.0" y="423.8" width="1.0" height="2.4" fill-opacity="0.70"/>
<rect x="272.0" y="426.1" width="1.0" height="2.4" fill-opacity="0.70"/>
<rect x="291.0" y="426.1" width="1.0" height="2.4" fill-opacity="0.70"/>
<rect x="83.0" y="428.8" width="1.0" height="2.4" fill-opacity="0.70"/>
<rect x="156.0" y="428.8" width="1.0" height="2.4" fill-opacity="0.70"/>
<rect x="172.0" y="428.8" width="1.0" height="2.4" fill-opacity="0.70"/>
<rect x="174.0" y="428.8" width="1.0" height="2.4" fill-opacity="0.70"/>
<rect x="200.0" y="428.8" width="1.0" height="2.4" fill-opacity="0.70"/>
<rect x="207.0" y="428.8" width="1.0" height="2.4" fill-opacity="0.70"/>
<rect x="219.0" y="428.8" width="1.0" height="2.4" fill-opacity="0.70"/>
<rect x="259.0" y="428.8" width="1.0" height="2.4" fill-opacity="0.70"/>
<rect x="269.0" y="428.8" width="1.0" height="2.4" fill-opacity="0.70"/>
<rect x="63.0" y="434.8" width="1.0" height="2.4" fill-opacity="0.70"/>
<rect x="94.0" y="434.8" width="1.0" height="2.4" fill-opacity="0.70"/>
<rect x="202.0" y="434.8" width="1.0" height="2.4" fill-opacity="0.70"/>
<rect x="260.0" y="434.8" width="1.0" height="2.4" fill-opacity="0.70"/>
<rect x="263.0" y="434.8" width="1.0" height="2.4" fill-opacity="0.70"/>
<rect x="303.0" y="434.8" width="1.0" height="2.4" fill-opacity="0.70"/>
<rect x="170.0" y="438.5" width="1.0" height="2.0" fill-opacity="0.70"/>
<rect x="175.0" y="438.5" width="1.0" height="2.0" fill-opacity="0.70"/>
<rect x="75.0" y="442.4" width="1.0" height="2.4" fill-opacity="0.70"/>
<rect x="120.0" y="442.4" width="1.0" height="2.4" fill-opacity="0.70"/>
<rect x="145.0" y="442.4" width="1.0" height="2.4" fill-opacity="0.70"/>
<rect x="166.0" y="442.4" width="1.0" height="2.4" fill-opacity="0.70"/>
<rect x="179.0" y="442.4" width="1.0" height="2.4" fill-opacity="0.70"/>
<rect x="216.0" y="442.4" width="1.0" height="2.4" fill-opacity="0.70"/>
<rect x="233.0" y="442.4" width="1.0" height="2.4" fill-opacity="0.70"/>
<rect x="261.0" y="442.4" width="1.0" height="2.4" fill-opacity="0.70"/>
<rect x="269.0" y="442.4" width="1.0" height="2.4" fill-opacity="0.70"/>
<rect x="270.0" y="442.4" width="1.0" height="2.4" fill-opacity="0.70"/>
<rect x="285.0" y="442.4" width="1.0" height="2.4" fill-opacity="0.70"/>
<rect x="300.0" y="442.4" width="1.0" height="2.4" fill-opacity="0.70"/>
<rect x="311.0" y="442.4" width="1.0" height="2.4" fill-opacity="0.70"/>
<rect x="85.0" y="448.8" width="1.0" height="2.4" fill-opacity="0.70"/>
<rect x="91.0" y="448.8" width="1.0" height="2.4" fill-opacity="0.70"/>
<rect x="138.0" y="448.8" width="1.0" height="2.4" fill-opacity="0.70"/>
<rect x="287.0" y="448.8" width="1.0" height="2.4" fill-opacity="0.70"/>
<rect x="351.0" y="448.8" width="1.0" height="2.4" fill-opacity="0.70"/>
<rect x="105.0" y="457.4" width="1.0" height="2.4" fill-opacity="0.70"/>
<rect x="135.0" y="457.4" width="1.0" height="2.4" fill-opacity="0.70"/>
<rect x="152.0" y="457.4" width="1.0" height="2.4" fill-opacity="0.70"/>
<rect x="170.0" y="457.4" width="1.0" height="2.4" fill-opacity="0.70"/>
<rect x="189.0" y="457.4" width="1.0" height="2.4" fill-opacity="0.70"/>
<rect x="201.0" y="457.4" width="1.0" height="2.4" fill-opacity="0.70"/>
<rect x="229.0" y="457.4" width="1.0" height="2.4" fill-opacity="0.70"/>
<rect x="237.0" y="457.4" width="1.0" height="2.4" fill-opacity="0.70"/>
<rect x="260.0" y="457.4" width="1.0" height="2.4" fill-opacity="0.70"/>
<rect x="277.0" y="457.4" width="1.0" height="2.4" fill-opacity="0.70"/>
<rect x="281.0" y="457.4" width="1.0" height="2.4" fill-opacity="0.70"/>
<rect x="341.0" y="457.4" width="1.0" height="2.4" fill-opacity="0.70"/>
<rect x="99.0" y="464.0" width="1.0" height="2.4" fill-opacity="0.70"/>
<rect x="166.0" y="464.0" width="1.0" height="2.4" fill-opacity="0.70"/>
<rect x="308.0" y="464.0" width="1.0" height="2.4" fill-opacity="0.70"/>
<rect x="87.0" y="469.5" width="1.0" height="2.0" fill-opacity="0.70"/>
<rect x="139.0" y="469.5" width="1.0" height="2.0" fill-opacity="0.70"/>
<rect x="163.0" y="469.5" width="1.0" height="2.0" fill-opacity="0.70"/>
<rect x="179.0" y="469.5" width="1.0" height="2.0" fill-opacity="0.70"/>
<rect x="291.0" y="469.5" width="1.0" height="2.0" fill-opacity="0.70"/>
<rect x="360.0" y="469.5" width="1.0" height="2.0" fill-opacity="0.70"/>
<rect x="97.0" y="472.3" width="1.0" height="1.8" fill-opacity="0.70"/>
<rect x="162.0" y="472.3" width="1.0" height="1.8" fill-opacity="0.70"/>
<rect x="209.0" y="472.3" width="1.0" height="1.8" fill-opacity="0.70"/>
<rect x="300.0" y="472.3" width="1.0" height="1.8" fill-opacity="0.70"/>
<rect x="67.0" y="476.8" width="1.0" height="2.4" fill-opacity="0.70"/>
<rect x="75.0" y="476.8" width="1.0" height="2.4" fill-opacity="0.70"/>
<rect x="185.0" y="476.8" width="1.0" height="2.4" fill-opacity="0.70"/>
<rect x="207.0" y="476.8" width="1.0" height="2.4" fill-opacity="0.70"/>
<rect x="336.0" y="476.8" width="1.0" height="2.4" fill-opacity="0.70"/>
<rect x="100.0" y="483.2" width="1.0" height="2.4" fill-opacity="0.70"/>
<rect x="222.0" y="483.2" width="1.0" height="2.4" fill-opacity="0.70"/>
<rect x="253.0" y="483.2" width="1.0" height="2.4" fill-opacity="0.70"/>
<rect x="139.0" y="487.6" width="1.0" height="2.2" fill-opacity="0.70"/>
<rect x="146.0" y="487.6" width="1.0" height="2.2" fill-opacity="0.70"/>
<rect x="317.0" y="487.6" width="1.0" height="2.2" fill-opacity="0.70"/>
<rect x="347.0" y="487.6" width="1.0" height="2.2" fill-opacity="0.70"/>
<rect x="64.0" y="491.8" width="1.0" height="2.4" fill-opacity="0.90"/>
<rect x="65.0" y="491.8" width="1.0" height="2.4" fill-opacity="0.90"/>
<rect x="71.0" y="491.8" width="1.0" height="2.4" fill-opacity="0.90"/>
<rect x="73.0" y="491.8" width="1.0" height="2.4" fill-opacity="0.90"/>
<rect x="79.0" y="491.8" width="1.0" height="2.4" fill-opacity="0.90"/>
<rect x="89.0" y="491.8" width="1.0" height="2.4" fill-opacity="0.90"/>
<rect x="94.0" y="491.8" width="1.0" height="2.4" fill-opacity="0.90"/>
<rect x="95.0" y="491.8" width="1.0" height="2.4" fill-opacity="0.90"/>
<rect x="98.0" y="491.8" width="1.0" height="2.4" fill-opacity="0.90"/>
<rect x="99.0" y="491.8" width="1.0" height="2.4" fill-opacity="0.90"/>
<rect x="102.0" y="491.8" width="1.0" height="2.4" fill-opacity="0.90"/>
<rect x="117.0" y="491.8" width="1.0" height="2.4" fill-opacity="0.90"/>
<rect x="118.0" y="491.8" width="1.0" height="2.4" fill-opacity="0.90"/>
<rect x="121.0" y="491.8" width="1.0" height="2.4" fill-opacity="0.90"/>
<rect x="130.0" y="491.8" width="1.0" height="2.4" fill-opacity="0.90"/>
<rect x="132.0" y="491.8" width="1.0" height="2.4" fill-opacity="0.90"/>
<rect x="133.0" y="491.8" width="1.0" height="2.4" fill-opacity="0.90"/>
<rect x="135.0" y="491.8" width="1.0" height="2.4" fill-opacity="0.90"/>
<rect x="136.0" y="491.8" width="1.0" height="2.4" fill-opacity="0.90"/>
<rect x="138.0" y="491.8" width="1.0" height="2.4" fill-opacity="0.90"/>
<rect x="140.0" y="491.8" width="1.0" height="2.4" fill-opacity="0.90"/>
<rect x="143.0" y="491.8" width="1.0" height="2.4" fill-opacity="0.90"/>
<rect x="154.0" y="491.8" width="1.0" height="2.4" fill-opacity="0.90"/>
<rect x="157.0" y="491.8" width="1.0" height="2.4" fill-opacity="0.90"/>
<rect x="165.0" y="491.8" width="1.0" height="2.4" fill-opacity="0.90"/>
<rect x="176.0" y="491.8" width="1.0" height="2.4" fill-opacity="0.90"/>
<rect x="181.0" y="491.8" width="1.0" height="2.4" fill-opacity="0.90"/>
<rect x="182.0" y="491.8" width="1.0" height="2.4" fill-opacity="0.90"/>
<rect x="187.0" y="491.8" width="1.0" height="2.4" fill-opacity="0.90"/>
<rect x="192.0" y="491.8" width="1.0" height="2.4" fill-opacity="0.90"/>
<rect x="193.0" y="491.8" width="1.0" height="2.4" fill-opacity="0.90"/>
<rect x="198.0" y="491.8" width="1.0" height="2.4" fill-opacity="0.90"/>
<rect x="212.0" y="491.8" width="1.0" height="2.4" fill-opacity="0.90"/>
<rect x="214.0" y="491.8" width="1.0" height="2.4" fill-opacity="0.90"/>
<rect x="222.0" y="491.8" width="1.0" height="2.4" fill-opacity="0.90"/>
<rect x="250.0" y="491.8" width="1.0" height="2.4" fill-opacity="0.90"/>
<rect x="263.0" y="491.8" width="1.0" height="2.4" fill-opacity="0.90"/>
<rect x="270.0" y="491.8" width="1.0" height="2.4" fill-opacity="0.90"/>
<rect x="281.0" y="491.8" width="1.0" height="2.4" fill-opacity="0.90"/>
<rect x="282.0" y="491.8" width="1.0" height="2.4" fill-opacity="0.90"/>
<rect x="289.0" y="491.8" width="1.0" height="2.4" fill-opacity="0.90"/>
<rect x="290.0" y="491.8" width="1.0" height="2.4" fill-opacity="0.90"/>
<rect x="296.0" y="491.8" width="1.0" height="2.4" fill-opacity="0.90"/>
<rect x="298.0" y="491.8" width="1.0" height="2.4" fill-opacity="0.90"/>
<rect x="300.0" y="491.8" width="1.0" height="2.4" fill-opacity="0.90"/>
<rect x="303.0" y="491.8" width="1.0" height="2.4" fill-opacity="0.90"/>
<rect x="307.0" y="491.8" width="1.0" height="2.4" fill-opacity="0.90"/>
<rect x="311.0" y="491.8" width="1.0" height="2.4" fill-opacity="0.90"/>
<rect x="312.0" y="491.8" width="1.0" height="2.4" fill-opacity="0.90"/>
<rect x="313.0" y="491.8" width="1.0" height="2.4" fill-opacity="0.90"/>
<rect x="322.0" y="491.8" width="1.0" height="2.4" fill-opacity="0.90"/>
<rect x="323.0" y="491.8" width="1.0" height="2.4" fill-opacity="0.90"/>
<rect x="332.0" y="491.8" width="1.0" height="2.4" fill-opacity="0.90"/>
<rect x="347.0" y="491.8" width="1.0" height="2.4" fill-opacity="0.90"/>
<rect x="348.0" y="491.8" width="1.0" height="2.4" fill-opacity="0.90"/>
<rect x="349.0" y="491.8" width="1.0" height="2.4" fill-opacity="0.90"/>
<rect x="351.0" y="491.8" width="1.0" height="2.4" fill-opacity="0.90"/>
<rect x="361.0" y="491.8" width="1.0" height="2.4" fill-opacity="0.90"/>
<rect x="67.0" y="496.8" width="1.0" height="2.4" fill-opacity="0.70"/>
<rect x="90.0" y="496.8" width="1.0" height="2.4" fill-opacity="0.70"/>
<rect x="106.0" y="496.8" width="1.0" height="2.4" fill-opacity="0.70"/>
<rect x="107.0" y="496.8" width="1.0" height="2.4" fill-opacity="0.70"/>
<rect x="139.0" y="496.8" width="1.0" height="2.4" fill-opacity="0.70"/>
<rect x="148.0" y="496.8" width="1.0" height="2.4" fill-opacity="0.70"/>
<rect x="151.0" y="496.8" width="1.0" height="2.4" fill-opacity="0.70"/>
<rect x="188.0" y="496.8" width="1.0" height="2.4" fill-opacity="0.70"/>
<rect x="203.0" y="496.8" width="1.0" height="2.4" fill-opacity="0.70"/>
<rect x="223.0" y="496.8" width="1.0" height="2.4" fill-opacity="0.70"/>
<rect x="234.0" y="496.8" width="1.0" height="2.4" fill-opacity="0.70"/>
<rect x="235.0" y="496.8" width="1.0" height="2.4" fill-opacity="0.70"/>
<rect x="253.0" y="496.8" width="1.0" height="2.4" fill-opacity="0.70"/>
<rect x="299.0" y="496.8" width="1.0" height="2.4" fill-opacity="0.70"/>
<rect x="323.0" y="496.8" width="1.0" height="2.4" fill-opacity="0.70"/>
<rect x="334.0" y="496.8" width="1.0" height="2.4" fill-opacity="0.70"/>
<rect x="356.0" y="496.8" width="1.0" height="2.4" fill-opacity="0.70"/>
<rect x="111.0" y="499.3" width="1.0" height="2.4" fill-opacity="0.70"/>
<rect x="235.0" y="499.3" width="1.0" height="2.4" fill-opacity="0.70"/>
<rect x="239.0" y="499.3" width="1.0" height="2.4" fill-opacity="0.70"/>
<rect x="257.0" y="499.3" width="1.0" height="2.4" fill-opacity="0.70"/>
<rect x="275.0" y="499.3" width="1.0" height="2.4" fill-opacity="0.70"/>
<rect x="283.0" y="499.3" width="1.0" height="2.4" fill-opacity="0.70"/>
<rect x="309.0" y="499.3" width="1.0" height="2.4" fill-opacity="0.70"/>
<rect x="329.0" y="499.3" width="1.0" height="2.4" fill-opacity="0.70"/>
<rect x="338.0" y="499.3" width="1.0" height="2.4" fill-opacity="0.70"/>
<rect x="354.0" y="499.3" width="1.0" height="2.4" fill-opacity="0.70"/>
<rect x="94.0" y="501.8" width="1.0" height="2.4" fill-opacity="0.70"/>
<rect x="116.0" y="501.8" width="1.0" height="2.4" fill-opacity="0.70"/>
<rect x="134.0" y="501.8" width="1.0" height="2.4" fill-opacity="0.70"/>
<rect x="176.0" y="501.8" width="1.0" height="2.4" fill-opacity="0.70"/>
<rect x="235.0" y="501.8" width="1.0" height="2.4" fill-opacity="0.70"/>
<rect x="239.0" y="501.8" width="1.0" height="2.4" fill-opacity="0.70"/>
<rect x="271.0" y="501.8" width="1.0" height="2.4" fill-opacity="0.70"/>
<rect x="277.0" y="501.8" width="1.0" height="2.4" fill-opacity="0.70"/>
<rect x="300.0" y="501.8" width="1.0" height="2.4" fill-opacity="0.70"/>
<rect x="349.0" y="501.8" width="1.0" height="2.4" fill-opacity="0.70"/>
<rect x="350.0" y="501.8" width="1.0" height="2.4" fill-opacity="0.70"/>
<rect x="110.0" y="504.3" width="1.0" height="2.4" fill-opacity="0.70"/>
<rect x="144.0" y="504.3" width="1.0" height="2.4" fill-opacity="0.70"/>
<rect x="175.0" y="504.3" width="1.0" height="2.4" fill-opacity="0.70"/>
<rect x="240.0" y="504.3" width="1.0" height="2.4" fill-opacity="0.70"/>
<rect x="315.0" y="504.3" width="1.0" height="2.4" fill-opacity="0.70"/>
<rect x="333.0" y="504.3" width="1.0" height="2.4" fill-opacity="0.70"/>
<rect x="353.0" y="504.3" width="1.0" height="2.4" fill-opacity="0.70"/>
<rect x="166.0" y="506.8" width="1.0" height="2.4" fill-opacity="0.70"/>
<rect x="167.0" y="506.8" width="1.0" height="2.4" fill-opacity="0.70"/>
<rect x="195.0" y="506.8" width="1.0" height="2.4" fill-opacity="0.70"/>
<rect x="205.0" y="506.8" width="1.0" height="2.4" fill-opacity="0.70"/>
<rect x="251.0" y="506.8" width="1.0" height="2.4" fill-opacity="0.70"/>
<rect x="288.0" y="506.8" width="1.0" height="2.4" fill-opacity="0.70"/>
<rect x="296.0" y="506.8" width="1.0" height="2.4" fill-opacity="0.70"/>
<rect x="318.0" y="506.8" width="1.0" height="2.4" fill-opacity="0.70"/>
<rect x="328.0" y="506.8" width="1.0" height="2.4" fill-opacity="0.70"/>
<rect x="137.0" y="509.3" width="1.0" height="2.4" fill-opacity="0.70"/>
<rect x="187.0" y="509.3" width="1.0" height="2.4" fill-opacity="0.70"/>
<rect x="198.0" y="509.3" width="1.0" height="2.4" fill-opacity="0.70"/>
<rect x="249.0" y="509.3" width="1.0" height="2.4" fill-opacity="0.70"/>
<rect x="277.0" y="509.3" width="1.0" height="2.4" fill-opacity="0.70"/>
<rect x="286.0" y="509.3" width="1.0" height="2.4" fill-opacity="0.70"/>
<rect x="306.0" y="509.3" width="1.0" height="2.4" fill-opacity="0.70"/>
<rect x="307.0" y="509.3" width="1.0" height="2.4" fill-opacity="0.70"/>
<rect x="122.0" y="511.8" width="1.0" height="2.4" fill-opacity="0.70"/>
<rect x="153.0" y="511.8" width="1.0" height="2.4" fill-opacity="0.70"/>
<rect x="176.0" y="511.8" width="1.0" height="2.4" fill-opacity="0.70"/>
<rect x="193.0" y="511.8" width="1.0" height="2.4" fill-opacity="0.70"/>
<rect x="302.0" y="511.8" width="1.0" height="2.4" fill-opacity="0.70"/>
<rect x="316.0" y="511.8" width="1.0" height="2.4" fill-opacity="0.70"/>
<rect x="333.0" y="511.8" width="1.0" height="2.4" fill-opacity="0.70"/>
<rect x="91.0" y="514.3" width="1.0" height="2.4" fill-opacity="0.70"/>
<rect x="160.0" y="514.3" width="1.0" height="2.4" fill-opacity="0.70"/>
<rect x="165.0" y="514.3" width="1.0" height="2.4" fill-opacity="0.70"/>
<rect x="176.0" y="514.3" width="1.0" height="2.4" fill-opacity="0.70"/>
<rect x="186.0" y="514.3" width="1.0" height="2.4" fill-opacity="0.70"/>
<rect x="204.0" y="514.3" width="1.0" height="2.4" fill-opacity="0.70"/>
<rect x="213.0" y="514.3" width="1.0" height="2.4" fill-opacity="0.70"/>
<rect x="250.0" y="514.3" width="1.0" height="2.4" fill-opacity="0.70"/>
<rect x="265.0" y="514.3" width="1.0" height="2.4" fill-opacity="0.70"/>
<rect x="274.0" y="514.3" width="1.0" height="2.4" fill-opacity="0.70"/>
<rect x="292.0" y="514.3" width="1.0" height="2.4" fill-opacity="0.70"/>
<rect x="302.0" y="514.3" width="1.0" height="2.4" fill-opacity="0.70"/>
<rect x="307.0" y="514.3" width="1.0" height="2.4" fill-opacity="0.70"/>
<rect x="309.0" y="514.3" width="1.0" height="2.4" fill-opacity="0.70"/>
<rect x="345.0" y="514.3" width="1.0" height="2.4" fill-opacity="0.70"/>
<rect x="127.0" y="516.8" width="1.0" height="2.4" fill-opacity="0.70"/>
<rect x="128.0" y="516.8" width="1.0" height="2.4" fill-opacity="0.70"/>
<rect x="131.0" y="516.8" width="1.0" height="2.4" fill-opacity="0.70"/>
<rect x="148.0" y="516.8" width="1.0" height="2.4" fill-opacity="0.70"/>
<rect x="160.0" y="516.8" width="1.0" height="2.4" fill-opacity="0.70"/>
<rect x="199.0" y="516.8" width="1.0" height="2.4" fill-opacity="0.70"/>
<rect x="201.0" y="516.8" width="1.0" height="2.4" fill-opacity="0.70"/>
<rect x="235.0" y="516.8" width="1.0" height="2.4" fill-opacity="0.70"/>
<rect x="314.0" y="516.8" width="1.0" height="2.4" fill-opacity="0.70"/>
<rect x="328.0" y="516.8" width="1.0" height="2.4" fill-opacity="0.70"/>
<rect x="121.0" y="519.3" width="1.0" height="2.4" fill-opacity="0.70"/>
<rect x="171.0" y="519.3" width="1.0" height="2.4" fill-opacity="0.70"/>
<rect x="186.0" y="519.3" width="1.0" height="2.4" fill-opacity="0.70"/>
<rect x="188.0" y="519.3" width="1.0" height="2.4" fill-opacity="0.70"/>
<rect x="233.0" y="519.3" width="1.0" height="2.4" fill-opacity="0.70"/>
<rect x="249.0" y="519.3" width="1.0" height="2.4" fill-opacity="0.70"/>
<rect x="354.0" y="519.3" width="1.0" height="2.4" fill-opacity="0.70"/>
<rect x="84.0" y="521.8" width="1.0" height="2.4" fill-opacity="0.70"/>
<rect x="153.0" y="521.8" width="1.0" height="2.4" fill-opacity="0.70"/>
<rect x="155.0" y="521.8" width="1.0" height="2.4" fill-opacity="0.70"/>
<rect x="228.0" y="521.8" width="1.0" height="2.4" fill-opacity="0.70"/>
<rect x="256.0" y="521.8" width="1.0" height="2.4" fill-opacity="0.70"/>
<rect x="262.0" y="521.8" width="1.0" height="2.4" fill-opacity="0.70"/>
<rect x="300.0" y="521.8" width="1.0" height="2.4" fill-opacity="0.70"/>
<rect x="338.0" y="521.8" width="1.0" height="2.4" fill-opacity="0.70"/>
<rect x="342.0" y="521.8" width="1.0" height="2.4" fill-opacity="0.70"/>
<rect x="60.9" y="527.4" width="1.3" height="2.0" fill-opacity="0.90"/>
<rect x="61.9" y="527.4" width="1.3" height="2.0" fill-opacity="0.90"/>
<rect x="62.9" y="527.4" width="1.3" height="2.0" fill-opacity="0.90"/>
<rect x="63.9" y="527.4" width="1.3" height="2.0" fill-opacity="0.90"/>
<rect x="64.8" y="527.4" width="1.3" height="2.0" fill-opacity="0.90"/>
<rect x="65.8" y="527.4" width="1.3" height="2.0" fill-opacity="0.90"/>
<rect x="66.8" y="527.4" width="1.3" height="2.0" fill-opacity="0.90"/>
<rect x="67.8" y="527.4" width="1.3" height="2.0" fill-opacity="0.90"/>
<rect x="68.8" y="527.4" width="1.3" height="2.0" fill-opacity="0.90"/>
<rect x="69.8" y="527.4" width="1.3" height="2.0" fill-opacity="0.90"/>
<rect x="70.8" y="527.4" width="1.3" height="2.0" fill-opacity="0.90"/>
<rect x="71.8" y="527.4" width="1.3" height="2.0" fill-opacity="0.90"/>
<rect x="72.8" y="527.4" width="1.3" height="2.0" fill-opacity="0.90"/>
<rect x="74.8" y="527.4" width="1.3" height="2.0" fill-opacity="0.90"/>
<rect x="75.8" y="527.4" width="1.3" height="2.0" fill-opacity="0.90"/>
<rect x="76.8" y="527.4" width="1.3" height="2.0" fill-opacity="0.90"/>
<rect x="77.8" y="527.4" width="1.3" height="2.0" fill-opacity="0.90"/>
<rect x="79.8" y="527.4" width="1.3" height="2.0" fill-opacity="0.90"/>
<rect x="81.8" y="527.4" width="1.3" height="2.0" fill-opacity="0.90"/>
<rect x="82.8" y="527.4" width="1.3" height="2.0" fill-opacity="0.90"/>
<rect x="83.8" y="527.4" width="1.3" height="2.0" fill-opacity="0.90"/>
<rect x="84.8" y="527.4" width="1.3" height="2.0" fill-opacity="0.90"/>
<rect x="85.8" y="527.4" width="1.3" height="2.0" fill-opacity="0.90"/>
<rect x="86.8" y="527.4" width="1.3" height="2.0" fill-opacity="0.90"/>
<rect x="87.8" y="527.4" width="1.3" height="2.0" fill-opacity="0.90"/>
<rect x="89.8" y="527.4" width="1.3" height="2.0" fill-opacity="0.90"/>
<rect x="90.8" y="527.4" width="1.3" height="2.0" fill-opacity="0.90"/>
<rect x="91.8" y="527.4" width="1.3" height="2.0" fill-opacity="0.90"/>
<rect x="92.8" y="527.4" width="1.3" height="2.0" fill-opacity="0.90"/>
<rect x="93.8" y="527.4" width="1.3" height="2.0" fill-opacity="0.90"/>
<rect x="94.8" y="527.4" width="1.3" height="2.0" fill-opacity="0.90"/>
<rect x="96.8" y="527.4" width="1.3" height="2.0" fill-opacity="0.90"/>
<rect x="98.8" y="527.4" width="1.3" height="2.0" fill-opacity="0.90"/>
<rect x="99.8" y="527.4" width="1.3" height="2.0" fill-opacity="0.90"/>
<rect x="100.8" y="527.4" width="1.3" height="2.0" fill-opacity="0.90"/>
<rect x="101.8" y="527.4" width="1.3" height="2.0" fill-opacity="0.90"/>
<rect x="102.8" y="527.4" width="1.3" height="2.0" fill-opacity="0.90"/>
<rect x="105.8" y="527.4" width="1.3" height="2.0" fill-opacity="0.90"/>
<rect x="106.8" y="527.4" width="1.3" height="2.0" fill-opacity="0.90"/>
<rect x="107.8" y="527.4" width="1.3" height="2.0" fill-opacity="0.90"/>
<rect x="109.8" y="527.4" width="1.3" height="2.0" fill-opacity="0.90"/>
<rect x="123.0" y="527.4" width="1.0" height="2.0" fill-opacity="0.90"/>
<rect x="150.0" y="527.4" width="1.0" height="2.0" fill-opacity="0.90"/>
<rect x="163.0" y="527.4" width="1.0" height="2.0" fill-opacity="0.90"/>
<rect x="182.0" y="527.4" width="1.0" height="2.0" fill-opacity="0.90"/>
<rect x="185.0" y="527.4" width="1.0" height="2.0" fill-opacity="0.90"/>
<rect x="195.0" y="527.4" width="1.0" height="2.0" fill-opacity="0.90"/>
<rect x="210.0" y="527.4" width="1.0" height="2.0" fill-opacity="0.90"/>
<rect x="214.0" y="527.4" width="1.0" height="2.0" fill-opacity="0.90"/>
<rect x="216.0" y="527.4" width="1.0" height="2.0" fill-opacity="0.90"/>
<rect x="235.0" y="527.4" width="1.0" height="2.0" fill-opacity="0.90"/>
<rect x="237.0" y="527.4" width="1.0" height="2.0" fill-opacity="0.90"/>
<rect x="249.0" y="527.4" width="1.0" height="2.0" fill-opacity="0.90"/>
<rect x="274.0" y="527.4" width="1.0" height="2.0" fill-opacity="0.90"/>
<rect x="277.0" y="527.4" width="1.0" height="2.0" fill-opacity="0.90"/>
<rect x="290.0" y="527.4" width="1.0" height="2.0" fill-opacity="0.90"/>
<rect x="298.0" y="527.4" width="1.0" height="2.0" fill-opacity="0.90"/>
<rect x="321.0" y="527.4" width="1.0" height="2.0" fill-opacity="0.90"/>
<rect x="345.0" y="527.4" width="1.0" height="2.0" fill-opacity="0.90"/>
<rect x="350.0" y="527.4" width="1.0" height="2.0" fill-opacity="0.90"/>
<rect x="81.0" y="530.1" width="1.0" height="2.4" fill-opacity="0.70"/>
<rect x="115.0" y="530.1" width="1.0" height="2.4" fill-opacity="0.70"/>
<rect x="133.0" y="530.1" width="1.0" height="2.4" fill-opacity="0.70"/>
<rect x="140.0" y="530.1" width="1.0" height="2.4" fill-opacity="0.70"/>
<rect x="142.0" y="530.1" width="1.0" height="2.4" fill-opacity="0.70"/>
<rect x="153.0" y="530.1" width="1.0" height="2.4" fill-opacity="0.70"/>
<rect x="171.0" y="530.1" width="1.0" height="2.4" fill-opacity="0.70"/>
<rect x="235.0" y="530.1" width="1.0" height="2.4" fill-opacity="0.70"/>
<rect x="267.0" y="530.1" width="1.0" height="2.4" fill-opacity="0.70"/>
<rect x="303.0" y="530.1" width="1.0" height="2.4" fill-opacity="0.70"/>
<rect x="306.0" y="530.1" width="1.0" height="2.4" fill-opacity="0.70"/>
<rect x="310.0" y="530.1" width="1.0" height="2.4" fill-opacity="0.70"/>
<rect x="289.4" y="472.2" width="1.3" height="2.4"/>
<rect x="291.4" y="472.2" width="1.3" height="2.4"/>
<rect x="292.4" y="472.2" width="1.3" height="2.4"/>
<rect x="299.4" y="472.2" width="1.3" height="2.4"/>
<rect x="307.4" y="472.2" width="1.3" height="2.4"/>
<rect x="308.4" y="472.2" width="1.3" height="2.4"/>
<rect x="309.4" y="472.2" width="1.3" height="2.4"/>
<rect x="310.4" y="472.2" width="1.3" height="2.4"/>
<rect x="312.4" y="472.2" width="1.3" height="2.4"/>
<rect x="313.4" y="472.2" width="1.3" height="2.4"/>
<rect x="314.4" y="472.2" width="1.3" height="2.4"/>
<rect x="315.4" y="472.2" width="1.3" height="2.4"/>
<rect x="316.4" y="472.2" width="1.3" height="2.4"/>
<rect x="317.4" y="472.2" width="1.3" height="2.4"/>
<rect x="319.4" y="472.2" width="1.3" height="2.4"/>
<rect x="320.4" y="472.2" width="1.3" height="2.4"/>
<rect x="321.4" y="472.2" width="1.3" height="2.4"/>
<rect x="323.4" y="472.2" width="1.3" height="2.4"/>
<rect x="359.5" y="379.8" width="4.0" height="2.4"/>
<rect x="359.8" y="370.2" width="2.5" height="1.6" fill-opacity="0.60"/>
<rect x="357.4" y="371.8" width="1.2" height="1.4" fill-opacity="0.50"/>
<rect x="355.3" y="384.9" width="2.4" height="2.2"/>
<line x1="449" y1="374.5" x2="449" y2="532.5" stroke="#000" stroke-width="1" />
<line x1="443" y1="532.5" x2="449.5" y2="532.5" stroke="#000" stroke-width="1" />
<text x="436.6" y="536.0" text-anchor="end" font-size="10" >0</text>
<line x1="443" y1="500.5" x2="449.5" y2="500.5" stroke="#000" stroke-width="1" />
<text x="436.6" y="504.0" text-anchor="end" font-size="10" >200</text>
<line x1="443" y1="469.5" x2="449.5" y2="469.5" stroke="#000" stroke-width="1" />
<text x="436.6" y="473.0" text-anchor="end" font-size="10" >400</text>
<line x1="443" y1="437.5" x2="449.5" y2="437.5" stroke="#000" stroke-width="1" />
<text x="436.6" y="441.0" text-anchor="end" font-size="10" >600</text>
<line x1="443" y1="406.5" x2="449.5" y2="406.5" stroke="#000" stroke-width="1" />
<text x="436.6" y="410.0" text-anchor="end" font-size="10" >800</text>
<line x1="443" y1="374.5" x2="449.5" y2="374.5" stroke="#000" stroke-width="1" />
<text x="436.6" y="378.0" text-anchor="end" font-size="10" >1000</text>
<line x1="461.5" y1="539" x2="724.5" y2="539" stroke="#000" stroke-width="1" />
<line x1="461.2" y1="539" x2="461.2" y2="545" stroke="#000" stroke-width="1" />
<text x="460.59999999999997" y="561" text-anchor="middle" font-size="10" >0</text>
<line x1="548.9" y1="539" x2="548.9" y2="545" stroke="#000" stroke-width="1" />
<text x="548.3" y="561" text-anchor="middle" font-size="10" >500</text>
<line x1="636.6" y1="539" x2="636.6" y2="545" stroke="#000" stroke-width="1" />
<text x="636.0" y="561" text-anchor="middle" font-size="10" >1000</text>
<line x1="724.3" y1="539" x2="724.3" y2="545" stroke="#000" stroke-width="1" />
<text x="723.6999999999999" y="561" text-anchor="middle" font-size="10" >1500</text>
<text x="612" y="584" text-anchor="middle" font-size="10" >intercell distance (µm)</text>
<text transform="translate(411.5,451) rotate(-90)" text-anchor="middle" font-size="10">correlation index</text>
<circle cx="539.4" cy="378.0" r="2.3" fill="none" stroke="#f00" stroke-width="1"/>
<circle cx="571.9" cy="367.4" r="2.3" fill="none" stroke="#f00" stroke-width="1"/>
<circle cx="636.4" cy="408.5" r="2.3" fill="none" stroke="#f00" stroke-width="1"/>
<circle cx="571.9" cy="470.5" r="2.3" fill="none" stroke="#f00" stroke-width="1"/>
<circle cx="571.9" cy="478.6" r="2.3" fill="none" stroke="#f00" stroke-width="1"/>
<circle cx="571.9" cy="505.4" r="2.3" fill="none" stroke="#f00" stroke-width="1"/>
<circle cx="571.9" cy="526.0" r="2.3" fill="none" stroke="#f00" stroke-width="1"/>
<circle cx="605.7" cy="475.0" r="2.3" fill="none" stroke="#f00" stroke-width="1"/>
<circle cx="617.8" cy="468.0" r="2.3" fill="none" stroke="#f00" stroke-width="1"/>
<circle cx="639.9" cy="463.8" r="2.3" fill="none" stroke="#f00" stroke-width="1"/>
<circle cx="636.4" cy="478.6" r="2.3" fill="none" stroke="#f00" stroke-width="1"/>
<circle cx="709.0" cy="496.6" r="2.3" fill="none" stroke="#f00" stroke-width="1"/>
<circle cx="496.1" cy="500.6" r="2.3" fill="none" stroke="#f00" stroke-width="1"/>
<circle cx="496.1" cy="505.4" r="2.3" fill="none" stroke="#f00" stroke-width="1"/>
<circle cx="461.0" cy="516.0" r="2.3" fill="none" stroke="#f00" stroke-width="1"/>
<circle cx="539.4" cy="509.4" r="2.3" fill="none" stroke="#f00" stroke-width="1"/>
<circle cx="696.4" cy="520.4" r="2.3" fill="none" stroke="#f00" stroke-width="1"/>
<circle cx="639.9" cy="520.4" r="2.3" fill="none" stroke="#f00" stroke-width="1"/>
<circle cx="636.4" cy="524.6" r="2.3" fill="none" stroke="#f00" stroke-width="1"/>
<circle cx="605.7" cy="525.4" r="2.3" fill="none" stroke="#f00" stroke-width="1"/>
<circle cx="639.9" cy="529.0" r="2.3" fill="none" stroke="#f00" stroke-width="1"/>
<circle cx="674.5" cy="526.4" r="2.3" fill="none" stroke="#f00" stroke-width="1"/>
<circle cx="671.5" cy="528.0" r="2.3" fill="none" stroke="#f00" stroke-width="1"/>
<circle cx="706.6" cy="528.4" r="2.3" fill="none" stroke="#f00" stroke-width="1"/>
<circle cx="713.9" cy="530.0" r="2.3" fill="none" stroke="#f00" stroke-width="1"/>
<circle cx="682.9" cy="529.6" r="2.3" fill="none" stroke="#f00" stroke-width="1"/>
<circle cx="531.2" cy="519.0" r="2.3" fill="none" stroke="#f00" stroke-width="1"/>
<circle cx="531.2" cy="521.0" r="2.3" fill="none" stroke="#f00" stroke-width="1"/>
<circle cx="531.2" cy="524.6" r="2.3" fill="none" stroke="#f00" stroke-width="1"/>
<circle cx="560.3" cy="527.4" r="2.3" fill="none" stroke="#f00" stroke-width="1"/>
<circle cx="461.0" cy="532.1" r="2.3" fill="none" stroke="#f00" stroke-width="1"/>
<circle cx="461.0" cy="531.2" r="2.3" fill="none" stroke="#f00" stroke-width="1"/>
<circle cx="461.0" cy="530.4" r="2.3" fill="none" stroke="#f00" stroke-width="1"/>
<circle cx="461.0" cy="529.5" r="2.3" fill="none" stroke="#f00" stroke-width="1"/>
<circle cx="461.0" cy="528.7" r="2.3" fill="none" stroke="#f00" stroke-width="1"/>
<circle cx="461.0" cy="527.8" r="2.3" fill="none" stroke="#f00" stroke-width="1"/>
<circle cx="461.0" cy="527.0" r="2.3" fill="none" stroke="#f00" stroke-width="1"/>
<circle cx="461.0" cy="526.1" r="2.3" fill="none" stroke="#f00" stroke-width="1"/>
<circle cx="496.1" cy="532.1" r="2.3" fill="none" stroke="#f00" stroke-width="1"/>
<circle cx="496.1" cy="531.5" r="2.3" fill="none" stroke="#f00" stroke-width="1"/>
<circle cx="496.1" cy="531.0" r="2.3" fill="none" stroke="#f00" stroke-width="1"/>
<circle cx="496.1" cy="530.4" r="2.3" fill="none" stroke="#f00" stroke-width="1"/>
<circle cx="496.1" cy="529.8" r="2.3" fill="none" stroke="#f00" stroke-width="1"/>
<circle cx="496.1" cy="529.2" r="2.3" fill="none" stroke="#f00" stroke-width="1"/>
<circle cx="496.1" cy="528.7" r="2.3" fill="none" stroke="#f00" stroke-width="1"/>
<circle cx="496.1" cy="528.1" r="2.3" fill="none" stroke="#f00" stroke-width="1"/>
<circle cx="510.6" cy="532.1" r="2.3" fill="none" stroke="#f00" stroke-width="1"/>
<circle cx="510.6" cy="531.5" r="2.3" fill="none" stroke="#f00" stroke-width="1"/>
<circle cx="510.6" cy="531.0" r="2.3" fill="none" stroke="#f00" stroke-width="1"/>
<circle cx="510.6" cy="530.4" r="2.3" fill="none" stroke="#f00" stroke-width="1"/>
<circle cx="510.6" cy="529.8" r="2.3" fill="none" stroke="#f00" stroke-width="1"/>
<circle cx="510.6" cy="529.2" r="2.3" fill="none" stroke="#f00" stroke-width="1"/>
<circle cx="510.6" cy="528.7" r="2.3" fill="none" stroke="#f00" stroke-width="1"/>
<circle cx="510.6" cy="528.1" r="2.3" fill="none" stroke="#f00" stroke-width="1"/>
<circle cx="531.2" cy="532.1" r="2.3" fill="none" stroke="#f00" stroke-width="1"/>
<circle cx="531.2" cy="531.5" r="2.3" fill="none" stroke="#f00" stroke-width="1"/>
<circle cx="531.2" cy="530.8" r="2.3" fill="none" stroke="#f00" stroke-width="1"/>
<circle cx="531.2" cy="530.2" r="2.3" fill="none" stroke="#f00" stroke-width="1"/>
<circle cx="531.2" cy="529.5" r="2.3" fill="none" stroke="#f00" stroke-width="1"/>
<circle cx="531.2" cy="528.9" r="2.3" fill="none" stroke="#f00" stroke-width="1"/>
<circle cx="531.2" cy="528.2" r="2.3" fill="none" stroke="#f00" stroke-width="1"/>
<circle cx="531.2" cy="527.6" r="2.3" fill="none" stroke="#f00" stroke-width="1"/>
<circle cx="539.4" cy="532.1" r="2.3" fill="none" stroke="#f00" stroke-width="1"/>
<circle cx="539.4" cy="531.4" r="2.3" fill="none" stroke="#f00" stroke-width="1"/>
<circle cx="539.4" cy="530.8" r="2.3" fill="none" stroke="#f00" stroke-width="1"/>
<circle cx="539.4" cy="530.1" r="2.3" fill="none" stroke="#f00" stroke-width="1"/>
<circle cx="539.4" cy="529.4" r="2.3" fill="none" stroke="#f00" stroke-width="1"/>
<circle cx="539.4" cy="528.8" r="2.3" fill="none" stroke="#f00" stroke-width="1"/>
<circle cx="539.4" cy="528.1" r="2.3" fill="none" stroke="#f00" stroke-width="1"/>
<circle cx="560.3" cy="532.1" r="2.3" fill="none" stroke="#f00" stroke-width="1"/>
<circle cx="560.3" cy="531.4" r="2.3" fill="none" stroke="#f00" stroke-width="1"/>
<circle cx="560.3" cy="530.7" r="2.3" fill="none" stroke="#f00" stroke-width="1"/>
<circle cx="560.3" cy="530.0" r="2.3" fill="none" stroke="#f00" stroke-width="1"/>
<circle cx="560.3" cy="529.3" r="2.3" fill="none" stroke="#f00" stroke-width="1"/>
<circle cx="566.2" cy="532.1" r="2.3" fill="none" stroke="#f00" stroke-width="1"/>
<circle cx="566.2" cy="531.4" r="2.3" fill="none" stroke="#f00" stroke-width="1"/>
<circle cx="566.2" cy="530.7" r="2.3" fill="none" stroke="#f00" stroke-width="1"/>
<circle cx="566.2" cy="530.0" r="2.3" fill="none" stroke="#f00" stroke-width="1"/>
<circle cx="566.2" cy="529.3" r="2.3" fill="none" stroke="#f00" stroke-width="1"/>
<circle cx="571.9" cy="532.1" r="2.3" fill="none" stroke="#f00" stroke-width="1"/>
<circle cx="571.9" cy="531.5" r="2.3" fill="none" stroke="#f00" stroke-width="1"/>
<circle cx="571.9" cy="530.9" r="2.3" fill="none" stroke="#f00" stroke-width="1"/>
<circle cx="571.9" cy="530.3" r="2.3" fill="none" stroke="#f00" stroke-width="1"/>
<circle cx="571.9" cy="529.6" r="2.3" fill="none" stroke="#f00" stroke-width="1"/>
<circle cx="587.5" cy="532.1" r="2.3" fill="none" stroke="#f00" stroke-width="1"/>
<circle cx="587.5" cy="531.4" r="2.3" fill="none" stroke="#f00" stroke-width="1"/>
<circle cx="587.5" cy="530.7" r="2.3" fill="none" stroke="#f00" stroke-width="1"/>
<circle cx="587.5" cy="530.0" r="2.3" fill="none" stroke="#f00" stroke-width="1"/>
<circle cx="587.5" cy="529.3" r="2.3" fill="none" stroke="#f00" stroke-width="1"/>
<circle cx="587.5" cy="528.6" r="2.3" fill="none" stroke="#f00" stroke-width="1"/>
<circle cx="601.3" cy="532.1" r="2.3" fill="none" stroke="#f00" stroke-width="1"/>
<circle cx="601.3" cy="531.5" r="2.3" fill="none" stroke="#f00" stroke-width="1"/>
<circle cx="601.3" cy="530.9" r="2.3" fill="none" stroke="#f00" stroke-width="1"/>
<circle cx="601.3" cy="530.4" r="2.3" fill="none" stroke="#f00" stroke-width="1"/>
<circle cx="605.7" cy="532.1" r="2.3" fill="none" stroke="#f00" stroke-width="1"/>
<circle cx="605.7" cy="531.3" r="2.3" fill="none" stroke="#f00" stroke-width="1"/>
<circle cx="605.7" cy="530.5" r="2.3" fill="none" stroke="#f00" stroke-width="1"/>
<circle cx="605.7" cy="529.6" r="2.3" fill="none" stroke="#f00" stroke-width="1"/>
<circle cx="609.9" cy="532.1" r="2.3" fill="none" stroke="#f00" stroke-width="1"/>
<circle cx="609.9" cy="531.5" r="2.3" fill="none" stroke="#f00" stroke-width="1"/>
<circle cx="609.9" cy="530.9" r="2.3" fill="none" stroke="#f00" stroke-width="1"/>
<circle cx="609.9" cy="530.4" r="2.3" fill="none" stroke="#f00" stroke-width="1"/>
<circle cx="617.8" cy="532.1" r="2.3" fill="none" stroke="#f00" stroke-width="1"/>
<circle cx="617.8" cy="531.4" r="2.3" fill="none" stroke="#f00" stroke-width="1"/>
<circle cx="617.8" cy="530.7" r="2.3" fill="none" stroke="#f00" stroke-width="1"/>
<circle cx="617.8" cy="530.0" r="2.3" fill="none" stroke="#f00" stroke-width="1"/>
<circle cx="636.4" cy="532.1" r="2.3" fill="none" stroke="#f00" stroke-width="1"/>
<circle cx="636.4" cy="531.5" r="2.3" fill="none" stroke="#f00" stroke-width="1"/>
<circle cx="636.4" cy="530.9" r="2.3" fill="none" stroke="#f00" stroke-width="1"/>
<circle cx="636.4" cy="530.3" r="2.3" fill="none" stroke="#f00" stroke-width="1"/>
<circle cx="636.4" cy="529.6" r="2.3" fill="none" stroke="#f00" stroke-width="1"/>
<circle cx="639.9" cy="532.1" r="2.3" fill="none" stroke="#f00" stroke-width="1"/>
<circle cx="639.9" cy="531.4" r="2.3" fill="none" stroke="#f00" stroke-width="1"/>
<circle cx="639.9" cy="530.7" r="2.3" fill="none" stroke="#f00" stroke-width="1"/>
<circle cx="639.9" cy="530.0" r="2.3" fill="none" stroke="#f00" stroke-width="1"/>
<circle cx="649.9" cy="532.1" r="2.3" fill="none" stroke="#f00" stroke-width="1"/>
<circle cx="649.9" cy="531.2" r="2.3" fill="none" stroke="#f00" stroke-width="1"/>
<circle cx="649.9" cy="530.4" r="2.3" fill="none" stroke="#f00" stroke-width="1"/>
<circle cx="659.4" cy="532.1" r="2.3" fill="none" stroke="#f00" stroke-width="1"/>
<circle cx="659.4" cy="531.6" r="2.3" fill="none" stroke="#f00" stroke-width="1"/>
<circle cx="659.4" cy="531.1" r="2.3" fill="none" stroke="#f00" stroke-width="1"/>
<circle cx="665.5" cy="532.1" r="2.3" fill="none" stroke="#f00" stroke-width="1"/>
<circle cx="665.5" cy="531.6" r="2.3" fill="none" stroke="#f00" stroke-width="1"/>
<circle cx="665.5" cy="531.1" r="2.3" fill="none" stroke="#f00" stroke-width="1"/>
<circle cx="671.5" cy="532.1" r="2.3" fill="none" stroke="#f00" stroke-width="1"/>
<circle cx="671.5" cy="531.2" r="2.3" fill="none" stroke="#f00" stroke-width="1"/>
<circle cx="671.5" cy="530.4" r="2.3" fill="none" stroke="#f00" stroke-width="1"/>
<circle cx="674.5" cy="532.1" r="2.3" fill="none" stroke="#f00" stroke-width="1"/>
<circle cx="674.5" cy="531.2" r="2.3" fill="none" stroke="#f00" stroke-width="1"/>
<circle cx="674.5" cy="530.4" r="2.3" fill="none" stroke="#f00" stroke-width="1"/>
<circle cx="682.9" cy="532.1" r="2.3" fill="none" stroke="#f00" stroke-width="1"/>
<circle cx="682.9" cy="531.2" r="2.3" fill="none" stroke="#f00" stroke-width="1"/>
<circle cx="682.9" cy="530.4" r="2.3" fill="none" stroke="#f00" stroke-width="1"/>
<circle cx="685.7" cy="532.1" r="2.3" fill="none" stroke="#f00" stroke-width="1"/>
<circle cx="685.7" cy="531.4" r="2.3" fill="none" stroke="#f00" stroke-width="1"/>
<circle cx="685.7" cy="530.7" r="2.3" fill="none" stroke="#f00" stroke-width="1"/>
<circle cx="696.4" cy="532.1" r="2.3" fill="none" stroke="#f00" stroke-width="1"/>
<circle cx="696.4" cy="531.1" r="2.3" fill="none" stroke="#f00" stroke-width="1"/>
<circle cx="706.6" cy="532.1" r="2.3" fill="none" stroke="#f00" stroke-width="1"/>
<circle cx="706.6" cy="530.7" r="2.3" fill="none" stroke="#f00" stroke-width="1"/>
<circle cx="709.0" cy="532.1" r="2.3" fill="none" stroke="#f00" stroke-width="1"/>
<circle cx="709.0" cy="531.6" r="2.3" fill="none" stroke="#f00" stroke-width="1"/>
<circle cx="709.0" cy="531.1" r="2.3" fill="none" stroke="#f00" stroke-width="1"/>
<circle cx="713.9" cy="532.1" r="2.3" fill="none" stroke="#f00" stroke-width="1"/>
<circle cx="713.9" cy="531.4" r="2.3" fill="none" stroke="#f00" stroke-width="1"/>
<circle cx="713.9" cy="530.7" r="2.3" fill="none" stroke="#f00" stroke-width="1"/>
<circle cx="716.4" cy="532.1" r="2.3" fill="none" stroke="#f00" stroke-width="1"/>
<circle cx="716.4" cy="531.1" r="2.3" fill="none" stroke="#f00" stroke-width="1"/>
<circle cx="728.1" cy="532.1" r="2.3" fill="none" stroke="#f00" stroke-width="1"/>
<circle cx="728.1" cy="531.4" r="2.3" fill="none" stroke="#f00" stroke-width="1"/>
<circle cx="735.0" cy="532.1" r="2.3" fill="none" stroke="#f00" stroke-width="1"/>
<circle cx="735.0" cy="531.4" r="2.3" fill="none" stroke="#f00" stroke-width="1"/>
<circle cx="741.6" cy="532.1" r="2.3" fill="none" stroke="#f00" stroke-width="1"/>
<circle cx="741.6" cy="531.4" r="2.3" fill="none" stroke="#f00" stroke-width="1"/>
<circle cx="743.7" cy="532.1" r="2.3" fill="none" stroke="#f00" stroke-width="1"/>
<circle cx="743.7" cy="531.4" r="2.3" fill="none" stroke="#f00" stroke-width="1"/>
<circle cx="758.7" cy="532.1" r="2.3" fill="none" stroke="#f00" stroke-width="1"/>
<circle cx="758.7" cy="531.7" r="2.3" fill="none" stroke="#f00" stroke-width="1"/>
<circle cx="762.7" cy="532.1" r="2.3" fill="none" stroke="#f00" stroke-width="1"/>
<circle cx="762.7" cy="531.7" r="2.3" fill="none" stroke="#f00" stroke-width="1"/>
<path d="M461.5 530.3 L480 530.9 L500 531.3 L560 531.5 L763 531.9" fill="none" stroke="#000" stroke-width="0.8"/>
</svg></body></html>
